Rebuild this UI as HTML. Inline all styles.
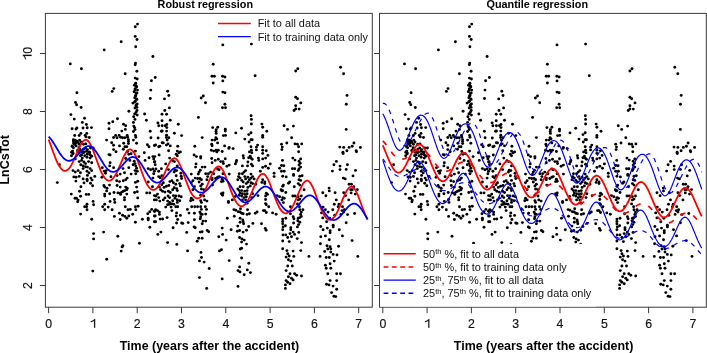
<!DOCTYPE html><html><head><meta charset="utf-8"><style>html,body{margin:0;padding:0;background:#fff;overflow:hidden}svg{display:block;will-change:transform}text{font-family:"Liberation Sans", sans-serif}</style></head><body><svg width="707" height="353" viewBox="0 0 707 353"><defs><clipPath id="cl"><rect x="45.4" y="13.4" width="326.9" height="293.8"/></clipPath><clipPath id="cr"><rect x="379.5" y="13.4" width="326.8" height="293.8"/></clipPath></defs><text x="205.3" y="7.8" font-size="10.8" font-weight="bold" text-anchor="middle" fill="#000">Robust regression</text><text x="537.3" y="7.8" font-size="10.8" font-weight="bold" text-anchor="middle" fill="#000">Quantile regression</text><g clip-path="url(#cl)"><g fill="#000" transform="translate(0.0,0)"><circle cx="137.5" cy="24.1" r="1.45"/><circle cx="135.3" cy="26.7" r="1.45"/><circle cx="135.2" cy="36.4" r="1.45"/><circle cx="137.0" cy="39.5" r="1.45"/><circle cx="121.2" cy="41.8" r="1.45"/><circle cx="135.7" cy="46.8" r="1.45"/><circle cx="104.2" cy="49.9" r="1.45"/><circle cx="152.9" cy="56.5" r="1.45"/><circle cx="70.3" cy="63.9" r="1.45"/><circle cx="135.5" cy="63.1" r="1.45"/><circle cx="135.2" cy="64.7" r="1.45"/><circle cx="222.8" cy="44.9" r="1.45"/><circle cx="251.4" cy="44.1" r="1.45"/><circle cx="213.2" cy="64.3" r="1.45"/><circle cx="81.4" cy="68.8" r="1.45"/><circle cx="136.9" cy="71.2" r="1.45"/><circle cx="125.2" cy="73.8" r="1.45"/><circle cx="135.2" cy="78.1" r="1.45"/><circle cx="137.2" cy="79.0" r="1.45"/><circle cx="151.4" cy="80.7" r="1.45"/><circle cx="135.7" cy="83.2" r="1.45"/><circle cx="134.4" cy="85.2" r="1.45"/><circle cx="136.3" cy="86.3" r="1.45"/><circle cx="135.2" cy="88.6" r="1.45"/><circle cx="137.5" cy="90.1" r="1.45"/><circle cx="134.1" cy="91.7" r="1.45"/><circle cx="136.3" cy="93.2" r="1.45"/><circle cx="113.8" cy="88.6" r="1.45"/><circle cx="112.2" cy="91.4" r="1.45"/><circle cx="150.8" cy="90.1" r="1.45"/><circle cx="76.9" cy="92.8" r="1.45"/><circle cx="150.3" cy="98.5" r="1.45"/><circle cx="75.5" cy="102.5" r="1.45"/><circle cx="76.6" cy="104.8" r="1.45"/><circle cx="81.1" cy="107.5" r="1.45"/><circle cx="135.7" cy="95.5" r="1.45"/><circle cx="134.7" cy="97.8" r="1.45"/><circle cx="136.9" cy="99.4" r="1.45"/><circle cx="135.2" cy="101.2" r="1.45"/><circle cx="132.9" cy="103.1" r="1.45"/><circle cx="137.2" cy="104.0" r="1.45"/><circle cx="136.0" cy="105.8" r="1.45"/><circle cx="136.9" cy="107.4" r="1.45"/><circle cx="128.9" cy="111.2" r="1.45"/><circle cx="136.0" cy="112.5" r="1.45"/><circle cx="134.7" cy="114.0" r="1.45"/><circle cx="137.2" cy="115.1" r="1.45"/><circle cx="133.7" cy="116.7" r="1.45"/><circle cx="144.6" cy="114.0" r="1.45"/><circle cx="70.9" cy="114.6" r="1.45"/><circle cx="74.3" cy="119.1" r="1.45"/><circle cx="84.5" cy="118.3" r="1.45"/><circle cx="117.5" cy="118.8" r="1.45"/><circle cx="146.4" cy="120.2" r="1.45"/><circle cx="135.0" cy="119.4" r="1.45"/><circle cx="155.2" cy="77.5" r="1.45"/><circle cx="212.0" cy="76.2" r="1.45"/><circle cx="214.4" cy="76.2" r="1.45"/><circle cx="213.2" cy="83.0" r="1.45"/><circle cx="222.6" cy="76.2" r="1.45"/><circle cx="224.9" cy="77.0" r="1.45"/><circle cx="222.8" cy="80.9" r="1.45"/><circle cx="255.1" cy="75.8" r="1.45"/><circle cx="167.6" cy="91.2" r="1.45"/><circle cx="168.8" cy="95.5" r="1.45"/><circle cx="164.5" cy="98.9" r="1.45"/><circle cx="222.8" cy="92.1" r="1.45"/><circle cx="224.9" cy="92.8" r="1.45"/><circle cx="203.3" cy="96.0" r="1.45"/><circle cx="201.2" cy="98.0" r="1.45"/><circle cx="205.5" cy="102.8" r="1.45"/><circle cx="224.9" cy="104.3" r="1.45"/><circle cx="222.5" cy="107.7" r="1.45"/><circle cx="225.5" cy="107.7" r="1.45"/><circle cx="169.4" cy="107.9" r="1.45"/><circle cx="164.8" cy="110.5" r="1.45"/><circle cx="162.0" cy="114.2" r="1.45"/><circle cx="166.6" cy="114.2" r="1.45"/><circle cx="198.4" cy="117.4" r="1.45"/><circle cx="251.1" cy="115.7" r="1.45"/><circle cx="251.4" cy="119.4" r="1.45"/><circle cx="162.0" cy="120.7" r="1.45"/><circle cx="170.3" cy="120.2" r="1.45"/><circle cx="297.8" cy="68.8" r="1.45"/><circle cx="295.7" cy="71.0" r="1.45"/><circle cx="340.6" cy="67.3" r="1.45"/><circle cx="343.6" cy="73.8" r="1.45"/><circle cx="295.7" cy="97.2" r="1.45"/><circle cx="297.5" cy="98.8" r="1.45"/><circle cx="300.8" cy="102.9" r="1.45"/><circle cx="295.7" cy="105.7" r="1.45"/><circle cx="295.7" cy="108.9" r="1.45"/><circle cx="294.1" cy="110.5" r="1.45"/><circle cx="299.1" cy="109.1" r="1.45"/><circle cx="347.0" cy="95.4" r="1.45"/><circle cx="346.3" cy="104.3" r="1.45"/><circle cx="82.3" cy="122.4" r="1.45"/><circle cx="86.4" cy="124.5" r="1.45"/><circle cx="72.1" cy="128.8" r="1.45"/><circle cx="76.0" cy="129.1" r="1.45"/><circle cx="76.9" cy="128.0" r="1.45"/><circle cx="83.0" cy="128.0" r="1.45"/><circle cx="87.2" cy="127.8" r="1.45"/><circle cx="91.5" cy="127.6" r="1.45"/><circle cx="74.7" cy="135.5" r="1.45"/><circle cx="79.2" cy="135.5" r="1.45"/><circle cx="80.9" cy="133.4" r="1.45"/><circle cx="86.8" cy="133.4" r="1.45"/><circle cx="85.1" cy="135.4" r="1.45"/><circle cx="89.3" cy="137.5" r="1.45"/><circle cx="86.1" cy="136.9" r="1.45"/><circle cx="73.4" cy="139.7" r="1.45"/><circle cx="75.0" cy="140.4" r="1.45"/><circle cx="76.1" cy="141.4" r="1.45"/><circle cx="79.6" cy="140.1" r="1.45"/><circle cx="73.8" cy="142.8" r="1.45"/><circle cx="75.7" cy="143.2" r="1.45"/><circle cx="77.7" cy="142.4" r="1.45"/><circle cx="72.2" cy="145.9" r="1.45"/><circle cx="76.1" cy="145.9" r="1.45"/><circle cx="83.5" cy="144.3" r="1.45"/><circle cx="85.8" cy="143.9" r="1.45"/><circle cx="74.6" cy="144.3" r="1.45"/><circle cx="79.2" cy="144.3" r="1.45"/><circle cx="80.8" cy="142.0" r="1.45"/><circle cx="109.0" cy="123.2" r="1.45"/><circle cx="112.8" cy="121.8" r="1.45"/><circle cx="123.5" cy="124.3" r="1.45"/><circle cx="125.7" cy="125.8" r="1.45"/><circle cx="109.0" cy="128.8" r="1.45"/><circle cx="121.8" cy="131.1" r="1.45"/><circle cx="125.3" cy="129.4" r="1.45"/><circle cx="133.4" cy="122.4" r="1.45"/><circle cx="133.8" cy="126.1" r="1.45"/><circle cx="134.6" cy="127.6" r="1.45"/><circle cx="135.0" cy="129.6" r="1.45"/><circle cx="133.4" cy="131.5" r="1.45"/><circle cx="150.2" cy="131.3" r="1.45"/><circle cx="115.6" cy="135.4" r="1.45"/><circle cx="119.1" cy="135.4" r="1.45"/><circle cx="113.6" cy="137.5" r="1.45"/><circle cx="117.0" cy="137.7" r="1.45"/><circle cx="120.6" cy="137.3" r="1.45"/><circle cx="122.6" cy="137.7" r="1.45"/><circle cx="124.9" cy="137.7" r="1.45"/><circle cx="127.2" cy="135.4" r="1.45"/><circle cx="127.6" cy="137.3" r="1.45"/><circle cx="128.4" cy="139.7" r="1.45"/><circle cx="128.4" cy="141.6" r="1.45"/><circle cx="128.4" cy="143.6" r="1.45"/><circle cx="135.4" cy="135.4" r="1.45"/><circle cx="135.8" cy="137.3" r="1.45"/><circle cx="133.4" cy="140.1" r="1.45"/><circle cx="136.6" cy="143.2" r="1.45"/><circle cx="106.6" cy="140.1" r="1.45"/><circle cx="111.7" cy="142.8" r="1.45"/><circle cx="113.6" cy="145.3" r="1.45"/><circle cx="123.7" cy="143.2" r="1.45"/><circle cx="119.5" cy="145.9" r="1.45"/><circle cx="124.9" cy="146.7" r="1.45"/><circle cx="126.8" cy="146.7" r="1.45"/><circle cx="150.9" cy="137.7" r="1.45"/><circle cx="147.4" cy="144.7" r="1.45"/><circle cx="149.0" cy="146.7" r="1.45"/><circle cx="154.4" cy="145.5" r="1.45"/><circle cx="72.6" cy="151.1" r="1.45"/><circle cx="73.0" cy="153.1" r="1.45"/><circle cx="71.5" cy="155.8" r="1.45"/><circle cx="75.3" cy="158.9" r="1.45"/><circle cx="77.7" cy="150.3" r="1.45"/><circle cx="79.6" cy="149.2" r="1.45"/><circle cx="81.6" cy="151.1" r="1.45"/><circle cx="83.1" cy="152.7" r="1.45"/><circle cx="80.4" cy="155.8" r="1.45"/><circle cx="82.3" cy="158.1" r="1.45"/><circle cx="84.7" cy="155.8" r="1.45"/><circle cx="87.4" cy="149.6" r="1.45"/><circle cx="88.6" cy="151.9" r="1.45"/><circle cx="89.7" cy="154.2" r="1.45"/><circle cx="91.7" cy="156.2" r="1.45"/><circle cx="87.0" cy="157.3" r="1.45"/><circle cx="90.1" cy="158.1" r="1.45"/><circle cx="79.2" cy="161.6" r="1.45"/><circle cx="81.6" cy="160.4" r="1.45"/><circle cx="83.9" cy="162.0" r="1.45"/><circle cx="85.5" cy="163.6" r="1.45"/><circle cx="88.6" cy="161.6" r="1.45"/><circle cx="91.7" cy="162.8" r="1.45"/><circle cx="80.8" cy="164.7" r="1.45"/><circle cx="83.1" cy="165.9" r="1.45"/><circle cx="85.5" cy="166.7" r="1.45"/><circle cx="87.4" cy="167.1" r="1.45"/><circle cx="83.1" cy="168.6" r="1.45"/><circle cx="90.1" cy="168.6" r="1.45"/><circle cx="91.7" cy="170.6" r="1.45"/><circle cx="73.0" cy="170.6" r="1.45"/><circle cx="75.3" cy="172.1" r="1.45"/><circle cx="78.1" cy="170.6" r="1.45"/><circle cx="80.4" cy="172.7" r="1.45"/><circle cx="87.0" cy="171.3" r="1.45"/><circle cx="89.0" cy="172.9" r="1.45"/><circle cx="59.4" cy="164.7" r="1.45"/><circle cx="93.2" cy="148.0" r="1.45"/><circle cx="90.5" cy="148.0" r="1.45"/><circle cx="85.5" cy="148.0" r="1.45"/><circle cx="113.6" cy="149.6" r="1.45"/><circle cx="116.0" cy="151.7" r="1.45"/><circle cx="123.3" cy="149.2" r="1.45"/><circle cx="109.0" cy="154.6" r="1.45"/><circle cx="110.1" cy="155.0" r="1.45"/><circle cx="127.6" cy="151.5" r="1.45"/><circle cx="128.8" cy="154.2" r="1.45"/><circle cx="131.1" cy="153.8" r="1.45"/><circle cx="135.4" cy="151.1" r="1.45"/><circle cx="138.9" cy="156.6" r="1.45"/><circle cx="144.3" cy="152.7" r="1.45"/><circle cx="125.7" cy="158.5" r="1.45"/><circle cx="129.9" cy="160.4" r="1.45"/><circle cx="110.1" cy="162.8" r="1.45"/><circle cx="109.7" cy="165.9" r="1.45"/><circle cx="113.6" cy="167.8" r="1.45"/><circle cx="102.3" cy="167.8" r="1.45"/><circle cx="104.3" cy="171.3" r="1.45"/><circle cx="106.2" cy="170.6" r="1.45"/><circle cx="105.5" cy="173.3" r="1.45"/><circle cx="123.0" cy="168.6" r="1.45"/><circle cx="128.8" cy="167.8" r="1.45"/><circle cx="124.5" cy="172.7" r="1.45"/><circle cx="120.2" cy="174.1" r="1.45"/><circle cx="131.1" cy="174.1" r="1.45"/><circle cx="134.2" cy="161.2" r="1.45"/><circle cx="135.0" cy="163.6" r="1.45"/><circle cx="135.8" cy="165.9" r="1.45"/><circle cx="136.6" cy="168.2" r="1.45"/><circle cx="135.0" cy="170.6" r="1.45"/><circle cx="137.3" cy="171.3" r="1.45"/><circle cx="133.1" cy="164.7" r="1.45"/><circle cx="145.1" cy="160.4" r="1.45"/><circle cx="149.0" cy="157.7" r="1.45"/><circle cx="152.9" cy="156.6" r="1.45"/><circle cx="153.7" cy="158.9" r="1.45"/><circle cx="154.4" cy="162.0" r="1.45"/><circle cx="148.2" cy="168.6" r="1.45"/><circle cx="150.6" cy="169.8" r="1.45"/><circle cx="152.9" cy="169.0" r="1.45"/><circle cx="154.4" cy="171.3" r="1.45"/><circle cx="153.7" cy="173.7" r="1.45"/><circle cx="135.8" cy="173.7" r="1.45"/><circle cx="157.9" cy="122.9" r="1.45"/><circle cx="158.7" cy="125.8" r="1.45"/><circle cx="162.2" cy="125.8" r="1.45"/><circle cx="165.3" cy="125.8" r="1.45"/><circle cx="166.8" cy="124.5" r="1.45"/><circle cx="166.8" cy="127.6" r="1.45"/><circle cx="178.3" cy="124.3" r="1.45"/><circle cx="161.4" cy="131.3" r="1.45"/><circle cx="162.2" cy="131.0" r="1.45"/><circle cx="166.6" cy="131.1" r="1.45"/><circle cx="174.4" cy="133.2" r="1.45"/><circle cx="181.6" cy="135.6" r="1.45"/><circle cx="166.6" cy="135.2" r="1.45"/><circle cx="166.4" cy="137.5" r="1.45"/><circle cx="168.8" cy="137.7" r="1.45"/><circle cx="167.2" cy="140.1" r="1.45"/><circle cx="158.1" cy="138.0" r="1.45"/><circle cx="202.2" cy="137.6" r="1.45"/><circle cx="162.2" cy="142.8" r="1.45"/><circle cx="163.3" cy="142.9" r="1.45"/><circle cx="155.6" cy="145.0" r="1.45"/><circle cx="158.7" cy="146.7" r="1.45"/><circle cx="159.8" cy="146.3" r="1.45"/><circle cx="166.4" cy="145.1" r="1.45"/><circle cx="168.0" cy="143.9" r="1.45"/><circle cx="170.3" cy="145.9" r="1.45"/><circle cx="177.7" cy="146.3" r="1.45"/><circle cx="194.8" cy="146.3" r="1.45"/><circle cx="212.7" cy="127.6" r="1.45"/><circle cx="217.7" cy="127.2" r="1.45"/><circle cx="216.2" cy="129.6" r="1.45"/><circle cx="216.0" cy="131.5" r="1.45"/><circle cx="216.2" cy="133.4" r="1.45"/><circle cx="225.3" cy="129.2" r="1.45"/><circle cx="225.3" cy="131.1" r="1.45"/><circle cx="223.4" cy="135.6" r="1.45"/><circle cx="225.5" cy="135.4" r="1.45"/><circle cx="235.8" cy="132.9" r="1.45"/><circle cx="241.5" cy="128.2" r="1.45"/><circle cx="251.4" cy="124.0" r="1.45"/><circle cx="251.0" cy="132.7" r="1.45"/><circle cx="248.8" cy="134.6" r="1.45"/><circle cx="244.8" cy="139.1" r="1.45"/><circle cx="251.0" cy="139.7" r="1.45"/><circle cx="252.2" cy="139.7" r="1.45"/><circle cx="249.1" cy="142.0" r="1.45"/><circle cx="261.9" cy="124.1" r="1.45"/><circle cx="262.7" cy="127.2" r="1.45"/><circle cx="262.7" cy="135.4" r="1.45"/><circle cx="262.7" cy="137.3" r="1.45"/><circle cx="215.8" cy="137.7" r="1.45"/><circle cx="216.8" cy="138.9" r="1.45"/><circle cx="212.1" cy="140.1" r="1.45"/><circle cx="214.8" cy="140.1" r="1.45"/><circle cx="217.6" cy="142.9" r="1.45"/><circle cx="211.7" cy="144.3" r="1.45"/><circle cx="212.1" cy="145.7" r="1.45"/><circle cx="224.6" cy="145.9" r="1.45"/><circle cx="229.2" cy="147.4" r="1.45"/><circle cx="251.0" cy="146.7" r="1.45"/><circle cx="257.6" cy="145.1" r="1.45"/><circle cx="256.4" cy="147.1" r="1.45"/><circle cx="262.7" cy="146.7" r="1.45"/><circle cx="168.6" cy="150.7" r="1.45"/><circle cx="177.3" cy="151.1" r="1.45"/><circle cx="180.4" cy="151.9" r="1.45"/><circle cx="178.9" cy="152.7" r="1.45"/><circle cx="176.2" cy="154.2" r="1.45"/><circle cx="177.3" cy="155.8" r="1.45"/><circle cx="159.1" cy="155.0" r="1.45"/><circle cx="154.8" cy="156.6" r="1.45"/><circle cx="154.8" cy="161.6" r="1.45"/><circle cx="155.2" cy="164.7" r="1.45"/><circle cx="169.6" cy="158.1" r="1.45"/><circle cx="172.7" cy="160.8" r="1.45"/><circle cx="174.4" cy="161.6" r="1.45"/><circle cx="165.7" cy="163.9" r="1.45"/><circle cx="177.3" cy="165.9" r="1.45"/><circle cx="161.4" cy="168.8" r="1.45"/><circle cx="168.4" cy="169.6" r="1.45"/><circle cx="175.0" cy="170.2" r="1.45"/><circle cx="176.6" cy="170.6" r="1.45"/><circle cx="174.2" cy="172.1" r="1.45"/><circle cx="180.8" cy="173.3" r="1.45"/><circle cx="155.9" cy="169.0" r="1.45"/><circle cx="158.7" cy="171.3" r="1.45"/><circle cx="194.1" cy="155.0" r="1.45"/><circle cx="196.4" cy="156.6" r="1.45"/><circle cx="200.7" cy="156.6" r="1.45"/><circle cx="200.7" cy="158.1" r="1.45"/><circle cx="196.0" cy="163.9" r="1.45"/><circle cx="195.6" cy="167.1" r="1.45"/><circle cx="202.2" cy="167.1" r="1.45"/><circle cx="204.9" cy="167.1" r="1.45"/><circle cx="200.3" cy="170.2" r="1.45"/><circle cx="199.1" cy="172.1" r="1.45"/><circle cx="198.3" cy="174.1" r="1.45"/><circle cx="191.3" cy="174.1" r="1.45"/><circle cx="205.7" cy="173.7" r="1.45"/><circle cx="208.4" cy="173.7" r="1.45"/><circle cx="211.3" cy="150.3" r="1.45"/><circle cx="213.7" cy="151.1" r="1.45"/><circle cx="216.0" cy="150.3" r="1.45"/><circle cx="218.3" cy="150.3" r="1.45"/><circle cx="216.8" cy="151.9" r="1.45"/><circle cx="222.2" cy="151.5" r="1.45"/><circle cx="228.8" cy="148.4" r="1.45"/><circle cx="233.1" cy="148.6" r="1.45"/><circle cx="211.7" cy="158.5" r="1.45"/><circle cx="215.2" cy="160.4" r="1.45"/><circle cx="218.3" cy="159.3" r="1.45"/><circle cx="220.7" cy="161.6" r="1.45"/><circle cx="223.0" cy="161.6" r="1.45"/><circle cx="223.4" cy="163.6" r="1.45"/><circle cx="225.3" cy="158.7" r="1.45"/><circle cx="212.1" cy="162.8" r="1.45"/><circle cx="226.9" cy="166.3" r="1.45"/><circle cx="229.2" cy="165.1" r="1.45"/><circle cx="235.4" cy="163.9" r="1.45"/><circle cx="236.2" cy="162.0" r="1.45"/><circle cx="236.6" cy="160.4" r="1.45"/><circle cx="243.2" cy="155.8" r="1.45"/><circle cx="243.6" cy="158.1" r="1.45"/><circle cx="242.4" cy="165.9" r="1.45"/><circle cx="247.9" cy="162.0" r="1.45"/><circle cx="248.7" cy="157.7" r="1.45"/><circle cx="250.2" cy="156.2" r="1.45"/><circle cx="251.0" cy="158.1" r="1.45"/><circle cx="252.2" cy="159.3" r="1.45"/><circle cx="249.4" cy="151.9" r="1.45"/><circle cx="251.4" cy="150.3" r="1.45"/><circle cx="251.8" cy="152.7" r="1.45"/><circle cx="256.4" cy="149.9" r="1.45"/><circle cx="258.4" cy="158.1" r="1.45"/><circle cx="258.8" cy="160.4" r="1.45"/><circle cx="262.7" cy="150.3" r="1.45"/><circle cx="262.7" cy="153.4" r="1.45"/><circle cx="262.7" cy="158.9" r="1.45"/><circle cx="251.4" cy="164.3" r="1.45"/><circle cx="252.6" cy="165.9" r="1.45"/><circle cx="247.5" cy="165.9" r="1.45"/><circle cx="245.6" cy="170.6" r="1.45"/><circle cx="244.0" cy="172.1" r="1.45"/><circle cx="242.4" cy="173.7" r="1.45"/><circle cx="239.3" cy="173.7" r="1.45"/><circle cx="217.6" cy="169.0" r="1.45"/><circle cx="219.1" cy="169.8" r="1.45"/><circle cx="210.6" cy="172.1" r="1.45"/><circle cx="213.7" cy="173.7" r="1.45"/><circle cx="229.2" cy="174.1" r="1.45"/><circle cx="223.0" cy="173.7" r="1.45"/><circle cx="260.3" cy="171.3" r="1.45"/><circle cx="262.7" cy="167.4" r="1.45"/><circle cx="251.0" cy="174.1" r="1.45"/><circle cx="284.1" cy="125.8" r="1.45"/><circle cx="293.4" cy="126.1" r="1.45"/><circle cx="287.5" cy="129.4" r="1.45"/><circle cx="266.8" cy="131.3" r="1.45"/><circle cx="291.6" cy="137.7" r="1.45"/><circle cx="281.5" cy="144.2" r="1.45"/><circle cx="286.8" cy="143.0" r="1.45"/><circle cx="295.0" cy="143.9" r="1.45"/><circle cx="297.4" cy="144.3" r="1.45"/><circle cx="301.7" cy="143.9" r="1.45"/><circle cx="298.6" cy="146.7" r="1.45"/><circle cx="282.3" cy="147.1" r="1.45"/><circle cx="346.2" cy="129.4" r="1.45"/><circle cx="353.9" cy="143.0" r="1.45"/><circle cx="352.2" cy="146.3" r="1.45"/><circle cx="349.1" cy="147.4" r="1.45"/><circle cx="339.8" cy="147.1" r="1.45"/><circle cx="343.7" cy="147.4" r="1.45"/><circle cx="360.4" cy="147.4" r="1.45"/><circle cx="281.9" cy="149.6" r="1.45"/><circle cx="266.3" cy="150.7" r="1.45"/><circle cx="267.9" cy="155.4" r="1.45"/><circle cx="265.6" cy="158.1" r="1.45"/><circle cx="270.2" cy="163.9" r="1.45"/><circle cx="265.6" cy="166.3" r="1.45"/><circle cx="268.3" cy="168.2" r="1.45"/><circle cx="282.5" cy="160.4" r="1.45"/><circle cx="281.5" cy="165.5" r="1.45"/><circle cx="283.8" cy="165.7" r="1.45"/><circle cx="279.6" cy="168.2" r="1.45"/><circle cx="281.5" cy="171.3" r="1.45"/><circle cx="284.2" cy="171.3" r="1.45"/><circle cx="298.6" cy="151.7" r="1.45"/><circle cx="292.8" cy="158.1" r="1.45"/><circle cx="295.0" cy="160.1" r="1.45"/><circle cx="300.6" cy="158.9" r="1.45"/><circle cx="299.0" cy="161.2" r="1.45"/><circle cx="300.2" cy="163.2" r="1.45"/><circle cx="299.0" cy="165.1" r="1.45"/><circle cx="300.6" cy="167.1" r="1.45"/><circle cx="299.0" cy="169.0" r="1.45"/><circle cx="298.2" cy="170.6" r="1.45"/><circle cx="292.4" cy="168.8" r="1.45"/><circle cx="294.7" cy="168.8" r="1.45"/><circle cx="274.1" cy="173.3" r="1.45"/><circle cx="293.6" cy="174.4" r="1.45"/><circle cx="346.9" cy="150.7" r="1.45"/><circle cx="342.9" cy="152.3" r="1.45"/><circle cx="343.1" cy="153.6" r="1.45"/><circle cx="356.1" cy="150.7" r="1.45"/><circle cx="356.5" cy="151.7" r="1.45"/><circle cx="336.4" cy="161.4" r="1.45"/><circle cx="333.9" cy="164.7" r="1.45"/><circle cx="340.0" cy="166.1" r="1.45"/><circle cx="347.4" cy="164.7" r="1.45"/><circle cx="340.0" cy="169.6" r="1.45"/><circle cx="346.2" cy="169.4" r="1.45"/><circle cx="332.4" cy="171.1" r="1.45"/><circle cx="355.5" cy="170.4" r="1.45"/><circle cx="57.3" cy="182.6" r="1.45"/><circle cx="73.8" cy="176.9" r="1.45"/><circle cx="76.1" cy="177.2" r="1.45"/><circle cx="79.2" cy="176.4" r="1.45"/><circle cx="87.4" cy="175.4" r="1.45"/><circle cx="94.8" cy="176.4" r="1.45"/><circle cx="83.1" cy="178.9" r="1.45"/><circle cx="87.0" cy="179.3" r="1.45"/><circle cx="87.2" cy="180.8" r="1.45"/><circle cx="90.9" cy="178.1" r="1.45"/><circle cx="92.1" cy="180.1" r="1.45"/><circle cx="75.9" cy="181.1" r="1.45"/><circle cx="84.0" cy="182.9" r="1.45"/><circle cx="90.5" cy="183.2" r="1.45"/><circle cx="92.6" cy="185.7" r="1.45"/><circle cx="80.9" cy="186.8" r="1.45"/><circle cx="79.6" cy="191.2" r="1.45"/><circle cx="71.3" cy="194.1" r="1.45"/><circle cx="86.2" cy="194.4" r="1.45"/><circle cx="88.7" cy="194.4" r="1.45"/><circle cx="80.6" cy="196.2" r="1.45"/><circle cx="75.0" cy="198.2" r="1.45"/><circle cx="76.5" cy="198.3" r="1.45"/><circle cx="78.1" cy="200.1" r="1.45"/><circle cx="93.1" cy="201.4" r="1.45"/><circle cx="77.7" cy="201.8" r="1.45"/><circle cx="101.9" cy="177.3" r="1.45"/><circle cx="110.9" cy="176.7" r="1.45"/><circle cx="117.1" cy="175.6" r="1.45"/><circle cx="116.7" cy="180.8" r="1.45"/><circle cx="119.5" cy="181.6" r="1.45"/><circle cx="123.3" cy="180.8" r="1.45"/><circle cx="125.7" cy="179.7" r="1.45"/><circle cx="127.2" cy="178.1" r="1.45"/><circle cx="135.4" cy="182.4" r="1.45"/><circle cx="137.7" cy="181.2" r="1.45"/><circle cx="103.9" cy="185.5" r="1.45"/><circle cx="104.7" cy="187.1" r="1.45"/><circle cx="107.0" cy="188.2" r="1.45"/><circle cx="109.5" cy="185.1" r="1.45"/><circle cx="117.1" cy="185.5" r="1.45"/><circle cx="120.2" cy="187.1" r="1.45"/><circle cx="125.7" cy="187.1" r="1.45"/><circle cx="127.2" cy="188.2" r="1.45"/><circle cx="126.8" cy="189.8" r="1.45"/><circle cx="124.9" cy="190.6" r="1.45"/><circle cx="123.3" cy="191.3" r="1.45"/><circle cx="121.8" cy="192.1" r="1.45"/><circle cx="120.2" cy="193.3" r="1.45"/><circle cx="136.6" cy="187.1" r="1.45"/><circle cx="106.6" cy="190.9" r="1.45"/><circle cx="104.7" cy="194.1" r="1.45"/><circle cx="104.7" cy="196.0" r="1.45"/><circle cx="109.7" cy="193.7" r="1.45"/><circle cx="114.0" cy="192.5" r="1.45"/><circle cx="117.9" cy="192.9" r="1.45"/><circle cx="120.6" cy="194.4" r="1.45"/><circle cx="126.8" cy="194.1" r="1.45"/><circle cx="134.6" cy="192.5" r="1.45"/><circle cx="137.3" cy="191.7" r="1.45"/><circle cx="137.7" cy="197.9" r="1.45"/><circle cx="124.5" cy="197.6" r="1.45"/><circle cx="124.5" cy="199.9" r="1.45"/><circle cx="114.4" cy="199.5" r="1.45"/><circle cx="110.1" cy="201.4" r="1.45"/><circle cx="146.7" cy="192.9" r="1.45"/><circle cx="149.8" cy="192.9" r="1.45"/><circle cx="148.2" cy="182.0" r="1.45"/><circle cx="152.5" cy="186.7" r="1.45"/><circle cx="154.4" cy="195.6" r="1.45"/><circle cx="154.4" cy="199.9" r="1.45"/><circle cx="152.9" cy="178.1" r="1.45"/><circle cx="158.7" cy="176.6" r="1.45"/><circle cx="160.2" cy="177.7" r="1.45"/><circle cx="161.8" cy="175.8" r="1.45"/><circle cx="176.2" cy="175.8" r="1.45"/><circle cx="181.2" cy="176.2" r="1.45"/><circle cx="181.6" cy="178.5" r="1.45"/><circle cx="177.3" cy="180.4" r="1.45"/><circle cx="169.9" cy="181.6" r="1.45"/><circle cx="171.9" cy="180.8" r="1.45"/><circle cx="173.4" cy="182.8" r="1.45"/><circle cx="163.3" cy="182.8" r="1.45"/><circle cx="161.8" cy="184.7" r="1.45"/><circle cx="159.4" cy="187.1" r="1.45"/><circle cx="164.1" cy="187.4" r="1.45"/><circle cx="166.4" cy="186.3" r="1.45"/><circle cx="168.8" cy="185.5" r="1.45"/><circle cx="175.8" cy="184.3" r="1.45"/><circle cx="179.7" cy="183.6" r="1.45"/><circle cx="180.4" cy="185.9" r="1.45"/><circle cx="174.2" cy="187.8" r="1.45"/><circle cx="176.6" cy="188.6" r="1.45"/><circle cx="177.3" cy="190.6" r="1.45"/><circle cx="172.7" cy="189.8" r="1.45"/><circle cx="160.6" cy="189.8" r="1.45"/><circle cx="162.6" cy="191.3" r="1.45"/><circle cx="164.9" cy="192.1" r="1.45"/><circle cx="168.4" cy="191.3" r="1.45"/><circle cx="170.3" cy="192.5" r="1.45"/><circle cx="157.5" cy="194.1" r="1.45"/><circle cx="155.9" cy="196.0" r="1.45"/><circle cx="158.7" cy="197.6" r="1.45"/><circle cx="156.3" cy="199.9" r="1.45"/><circle cx="164.9" cy="197.9" r="1.45"/><circle cx="163.3" cy="199.9" r="1.45"/><circle cx="168.0" cy="196.0" r="1.45"/><circle cx="169.6" cy="197.6" r="1.45"/><circle cx="173.4" cy="195.6" r="1.45"/><circle cx="175.8" cy="196.0" r="1.45"/><circle cx="178.9" cy="196.0" r="1.45"/><circle cx="181.2" cy="196.8" r="1.45"/><circle cx="175.0" cy="198.3" r="1.45"/><circle cx="177.3" cy="199.9" r="1.45"/><circle cx="172.7" cy="200.7" r="1.45"/><circle cx="179.7" cy="200.7" r="1.45"/><circle cx="167.6" cy="201.1" r="1.45"/><circle cx="159.8" cy="201.1" r="1.45"/><circle cx="195.2" cy="178.1" r="1.45"/><circle cx="197.6" cy="178.5" r="1.45"/><circle cx="199.9" cy="178.5" r="1.45"/><circle cx="201.4" cy="179.7" r="1.45"/><circle cx="192.9" cy="180.8" r="1.45"/><circle cx="199.1" cy="182.0" r="1.45"/><circle cx="202.2" cy="184.3" r="1.45"/><circle cx="200.7" cy="185.9" r="1.45"/><circle cx="194.4" cy="186.7" r="1.45"/><circle cx="201.4" cy="189.0" r="1.45"/><circle cx="203.8" cy="189.8" r="1.45"/><circle cx="191.3" cy="182.8" r="1.45"/><circle cx="192.9" cy="189.8" r="1.45"/><circle cx="203.8" cy="196.0" r="1.45"/><circle cx="200.7" cy="195.2" r="1.45"/><circle cx="191.3" cy="198.3" r="1.45"/><circle cx="190.6" cy="200.7" r="1.45"/><circle cx="192.9" cy="199.9" r="1.45"/><circle cx="200.7" cy="200.7" r="1.45"/><circle cx="204.6" cy="199.9" r="1.45"/><circle cx="206.9" cy="201.1" r="1.45"/><circle cx="207.7" cy="176.6" r="1.45"/><circle cx="206.9" cy="179.7" r="1.45"/><circle cx="212.1" cy="178.1" r="1.45"/><circle cx="212.1" cy="179.7" r="1.45"/><circle cx="215.6" cy="178.5" r="1.45"/><circle cx="217.6" cy="177.3" r="1.45"/><circle cx="219.1" cy="176.6" r="1.45"/><circle cx="222.2" cy="179.3" r="1.45"/><circle cx="221.4" cy="181.6" r="1.45"/><circle cx="223.0" cy="181.2" r="1.45"/><circle cx="212.5" cy="185.1" r="1.45"/><circle cx="221.4" cy="193.7" r="1.45"/><circle cx="222.6" cy="195.2" r="1.45"/><circle cx="223.0" cy="192.9" r="1.45"/><circle cx="232.3" cy="199.9" r="1.45"/><circle cx="235.4" cy="196.4" r="1.45"/><circle cx="228.4" cy="201.4" r="1.45"/><circle cx="238.6" cy="176.6" r="1.45"/><circle cx="240.1" cy="178.1" r="1.45"/><circle cx="237.8" cy="179.7" r="1.45"/><circle cx="241.7" cy="180.4" r="1.45"/><circle cx="243.2" cy="182.0" r="1.45"/><circle cx="245.6" cy="178.9" r="1.45"/><circle cx="244.8" cy="176.6" r="1.45"/><circle cx="247.9" cy="177.3" r="1.45"/><circle cx="249.4" cy="179.7" r="1.45"/><circle cx="251.0" cy="178.1" r="1.45"/><circle cx="252.6" cy="176.6" r="1.45"/><circle cx="254.1" cy="178.9" r="1.45"/><circle cx="247.9" cy="182.0" r="1.45"/><circle cx="251.0" cy="182.8" r="1.45"/><circle cx="252.6" cy="183.6" r="1.45"/><circle cx="255.7" cy="184.3" r="1.45"/><circle cx="246.3" cy="183.6" r="1.45"/><circle cx="243.2" cy="186.7" r="1.45"/><circle cx="240.1" cy="186.7" r="1.45"/><circle cx="237.8" cy="189.0" r="1.45"/><circle cx="239.3" cy="190.6" r="1.45"/><circle cx="241.7" cy="190.6" r="1.45"/><circle cx="244.8" cy="191.3" r="1.45"/><circle cx="247.1" cy="190.6" r="1.45"/><circle cx="247.9" cy="187.4" r="1.45"/><circle cx="250.2" cy="185.9" r="1.45"/><circle cx="240.1" cy="192.9" r="1.45"/><circle cx="242.4" cy="193.7" r="1.45"/><circle cx="244.8" cy="194.4" r="1.45"/><circle cx="247.1" cy="193.7" r="1.45"/><circle cx="246.3" cy="196.8" r="1.45"/><circle cx="244.0" cy="197.6" r="1.45"/><circle cx="241.7" cy="196.0" r="1.45"/><circle cx="239.3" cy="195.2" r="1.45"/><circle cx="242.4" cy="199.9" r="1.45"/><circle cx="245.6" cy="199.9" r="1.45"/><circle cx="252.6" cy="193.7" r="1.45"/><circle cx="258.0" cy="195.6" r="1.45"/><circle cx="251.8" cy="197.6" r="1.45"/><circle cx="262.7" cy="179.7" r="1.45"/><circle cx="261.9" cy="182.4" r="1.45"/><circle cx="274.1" cy="176.6" r="1.45"/><circle cx="282.7" cy="176.2" r="1.45"/><circle cx="286.2" cy="176.9" r="1.45"/><circle cx="293.6" cy="175.4" r="1.45"/><circle cx="299.8" cy="176.2" r="1.45"/><circle cx="302.1" cy="175.8" r="1.45"/><circle cx="299.0" cy="179.7" r="1.45"/><circle cx="300.6" cy="180.4" r="1.45"/><circle cx="298.2" cy="183.6" r="1.45"/><circle cx="299.8" cy="185.1" r="1.45"/><circle cx="289.7" cy="182.0" r="1.45"/><circle cx="288.5" cy="183.2" r="1.45"/><circle cx="283.4" cy="185.1" r="1.45"/><circle cx="282.7" cy="186.3" r="1.45"/><circle cx="294.3" cy="186.7" r="1.45"/><circle cx="304.1" cy="189.8" r="1.45"/><circle cx="281.1" cy="189.8" r="1.45"/><circle cx="282.7" cy="190.6" r="1.45"/><circle cx="285.8" cy="192.5" r="1.45"/><circle cx="281.9" cy="190.9" r="1.45"/><circle cx="264.8" cy="182.0" r="1.45"/><circle cx="264.8" cy="183.6" r="1.45"/><circle cx="266.3" cy="193.3" r="1.45"/><circle cx="267.5" cy="194.4" r="1.45"/><circle cx="265.6" cy="196.0" r="1.45"/><circle cx="265.6" cy="199.5" r="1.45"/><circle cx="277.2" cy="195.6" r="1.45"/><circle cx="279.6" cy="196.8" r="1.45"/><circle cx="282.7" cy="197.6" r="1.45"/><circle cx="284.2" cy="198.3" r="1.45"/><circle cx="281.9" cy="199.9" r="1.45"/><circle cx="292.8" cy="196.0" r="1.45"/><circle cx="295.1" cy="196.0" r="1.45"/><circle cx="298.2" cy="196.8" r="1.45"/><circle cx="301.3" cy="196.0" r="1.45"/><circle cx="299.8" cy="199.1" r="1.45"/><circle cx="298.2" cy="199.9" r="1.45"/><circle cx="353.0" cy="175.9" r="1.45"/><circle cx="343.3" cy="178.1" r="1.45"/><circle cx="345.2" cy="178.9" r="1.45"/><circle cx="349.1" cy="184.3" r="1.45"/><circle cx="351.4" cy="184.3" r="1.45"/><circle cx="353.8" cy="186.7" r="1.45"/><circle cx="357.3" cy="189.6" r="1.45"/><circle cx="350.7" cy="189.8" r="1.45"/><circle cx="352.2" cy="189.8" r="1.45"/><circle cx="351.1" cy="192.9" r="1.45"/><circle cx="355.3" cy="194.1" r="1.45"/><circle cx="343.7" cy="192.7" r="1.45"/><circle cx="345.6" cy="195.6" r="1.45"/><circle cx="329.1" cy="188.1" r="1.45"/><circle cx="329.3" cy="190.9" r="1.45"/><circle cx="322.8" cy="192.7" r="1.45"/><circle cx="325.9" cy="195.8" r="1.45"/><circle cx="335.1" cy="192.7" r="1.45"/><circle cx="336.3" cy="199.9" r="1.45"/><circle cx="348.7" cy="199.9" r="1.45"/><circle cx="87.0" cy="204.3" r="1.45"/><circle cx="84.7" cy="206.8" r="1.45"/><circle cx="86.6" cy="206.8" r="1.45"/><circle cx="87.0" cy="209.8" r="1.45"/><circle cx="93.6" cy="204.7" r="1.45"/><circle cx="80.6" cy="214.1" r="1.45"/><circle cx="91.7" cy="219.3" r="1.45"/><circle cx="114.8" cy="202.4" r="1.45"/><circle cx="104.7" cy="204.2" r="1.45"/><circle cx="102.7" cy="206.8" r="1.45"/><circle cx="108.2" cy="207.1" r="1.45"/><circle cx="104.7" cy="209.8" r="1.45"/><circle cx="112.1" cy="209.8" r="1.45"/><circle cx="125.3" cy="206.8" r="1.45"/><circle cx="128.0" cy="209.8" r="1.45"/><circle cx="130.3" cy="209.4" r="1.45"/><circle cx="135.4" cy="206.8" r="1.45"/><circle cx="138.1" cy="206.3" r="1.45"/><circle cx="135.8" cy="209.8" r="1.45"/><circle cx="119.5" cy="213.3" r="1.45"/><circle cx="122.6" cy="215.2" r="1.45"/><circle cx="124.9" cy="216.4" r="1.45"/><circle cx="126.8" cy="218.3" r="1.45"/><circle cx="128.8" cy="216.0" r="1.45"/><circle cx="132.7" cy="214.3" r="1.45"/><circle cx="114.4" cy="216.4" r="1.45"/><circle cx="120.2" cy="219.5" r="1.45"/><circle cx="135.4" cy="222.2" r="1.45"/><circle cx="142.4" cy="219.3" r="1.45"/><circle cx="148.2" cy="218.3" r="1.45"/><circle cx="148.2" cy="219.9" r="1.45"/><circle cx="147.8" cy="213.7" r="1.45"/><circle cx="149.8" cy="211.7" r="1.45"/><circle cx="151.7" cy="209.4" r="1.45"/><circle cx="154.4" cy="211.3" r="1.45"/><circle cx="154.4" cy="216.0" r="1.45"/><circle cx="154.4" cy="221.8" r="1.45"/><circle cx="149.8" cy="227.3" r="1.45"/><circle cx="169.6" cy="202.4" r="1.45"/><circle cx="177.3" cy="202.4" r="1.45"/><circle cx="201.4" cy="202.4" r="1.45"/><circle cx="165.7" cy="207.1" r="1.45"/><circle cx="167.6" cy="204.7" r="1.45"/><circle cx="169.6" cy="204.3" r="1.45"/><circle cx="171.9" cy="203.9" r="1.45"/><circle cx="173.8" cy="204.3" r="1.45"/><circle cx="171.1" cy="207.1" r="1.45"/><circle cx="175.8" cy="206.8" r="1.45"/><circle cx="177.7" cy="206.8" r="1.45"/><circle cx="171.9" cy="210.6" r="1.45"/><circle cx="155.6" cy="209.8" r="1.45"/><circle cx="157.5" cy="210.6" r="1.45"/><circle cx="154.8" cy="211.3" r="1.45"/><circle cx="159.4" cy="212.1" r="1.45"/><circle cx="159.4" cy="214.4" r="1.45"/><circle cx="155.2" cy="216.0" r="1.45"/><circle cx="160.2" cy="219.1" r="1.45"/><circle cx="162.6" cy="219.0" r="1.45"/><circle cx="167.1" cy="217.6" r="1.45"/><circle cx="176.6" cy="212.9" r="1.45"/><circle cx="176.2" cy="216.0" r="1.45"/><circle cx="180.4" cy="215.4" r="1.45"/><circle cx="177.7" cy="219.5" r="1.45"/><circle cx="176.6" cy="223.0" r="1.45"/><circle cx="181.6" cy="223.0" r="1.45"/><circle cx="182.8" cy="223.4" r="1.45"/><circle cx="187.4" cy="209.4" r="1.45"/><circle cx="189.0" cy="213.1" r="1.45"/><circle cx="194.4" cy="213.3" r="1.45"/><circle cx="191.7" cy="206.8" r="1.45"/><circle cx="194.8" cy="206.8" r="1.45"/><circle cx="197.6" cy="206.8" r="1.45"/><circle cx="200.7" cy="206.8" r="1.45"/><circle cx="205.3" cy="206.8" r="1.45"/><circle cx="206.5" cy="209.4" r="1.45"/><circle cx="201.4" cy="209.4" r="1.45"/><circle cx="199.9" cy="212.1" r="1.45"/><circle cx="200.7" cy="213.7" r="1.45"/><circle cx="202.2" cy="214.4" r="1.45"/><circle cx="205.7" cy="214.1" r="1.45"/><circle cx="200.7" cy="216.8" r="1.45"/><circle cx="200.3" cy="218.7" r="1.45"/><circle cx="194.4" cy="219.7" r="1.45"/><circle cx="188.2" cy="222.6" r="1.45"/><circle cx="203.0" cy="221.1" r="1.45"/><circle cx="205.7" cy="221.1" r="1.45"/><circle cx="202.2" cy="223.8" r="1.45"/><circle cx="155.6" cy="221.8" r="1.45"/><circle cx="173.1" cy="227.7" r="1.45"/><circle cx="194.1" cy="226.9" r="1.45"/><circle cx="195.2" cy="227.7" r="1.45"/><circle cx="228.4" cy="202.6" r="1.45"/><circle cx="233.9" cy="209.6" r="1.45"/><circle cx="235.8" cy="210.2" r="1.45"/><circle cx="238.2" cy="211.7" r="1.45"/><circle cx="240.1" cy="212.0" r="1.45"/><circle cx="240.5" cy="208.8" r="1.45"/><circle cx="241.7" cy="213.3" r="1.45"/><circle cx="243.2" cy="213.7" r="1.45"/><circle cx="247.5" cy="209.8" r="1.45"/><circle cx="247.1" cy="214.4" r="1.45"/><circle cx="249.4" cy="213.8" r="1.45"/><circle cx="255.3" cy="213.3" r="1.45"/><circle cx="257.1" cy="212.0" r="1.45"/><circle cx="234.3" cy="216.2" r="1.45"/><circle cx="227.3" cy="218.2" r="1.45"/><circle cx="240.1" cy="218.2" r="1.45"/><circle cx="242.8" cy="219.9" r="1.45"/><circle cx="243.2" cy="221.8" r="1.45"/><circle cx="243.6" cy="223.8" r="1.45"/><circle cx="240.1" cy="222.2" r="1.45"/><circle cx="237.8" cy="226.1" r="1.45"/><circle cx="252.9" cy="223.4" r="1.45"/><circle cx="261.5" cy="223.8" r="1.45"/><circle cx="248.7" cy="226.5" r="1.45"/><circle cx="222.2" cy="228.1" r="1.45"/><circle cx="263.4" cy="210.6" r="1.45"/><circle cx="247.1" cy="203.2" r="1.45"/><circle cx="265.6" cy="203.6" r="1.45"/><circle cx="266.3" cy="204.7" r="1.45"/><circle cx="268.7" cy="206.8" r="1.45"/><circle cx="264.8" cy="210.6" r="1.45"/><circle cx="266.3" cy="212.5" r="1.45"/><circle cx="272.6" cy="212.9" r="1.45"/><circle cx="276.1" cy="214.3" r="1.45"/><circle cx="283.4" cy="202.6" r="1.45"/><circle cx="290.4" cy="206.8" r="1.45"/><circle cx="297.4" cy="203.9" r="1.45"/><circle cx="299.4" cy="206.7" r="1.45"/><circle cx="299.8" cy="209.8" r="1.45"/><circle cx="302.9" cy="209.8" r="1.45"/><circle cx="301.3" cy="212.1" r="1.45"/><circle cx="300.6" cy="214.4" r="1.45"/><circle cx="301.3" cy="216.4" r="1.45"/><circle cx="299.8" cy="217.6" r="1.45"/><circle cx="298.2" cy="218.3" r="1.45"/><circle cx="297.8" cy="220.7" r="1.45"/><circle cx="299.8" cy="222.2" r="1.45"/><circle cx="298.6" cy="224.6" r="1.45"/><circle cx="297.4" cy="226.9" r="1.45"/><circle cx="290.4" cy="213.7" r="1.45"/><circle cx="293.2" cy="216.8" r="1.45"/><circle cx="293.9" cy="218.7" r="1.45"/><circle cx="293.6" cy="223.0" r="1.45"/><circle cx="290.8" cy="227.7" r="1.45"/><circle cx="282.7" cy="219.1" r="1.45"/><circle cx="285.8" cy="218.3" r="1.45"/><circle cx="282.7" cy="221.4" r="1.45"/><circle cx="282.7" cy="223.8" r="1.45"/><circle cx="283.1" cy="226.9" r="1.45"/><circle cx="285.4" cy="225.7" r="1.45"/><circle cx="265.2" cy="228.4" r="1.45"/><circle cx="334.3" cy="204.3" r="1.45"/><circle cx="339.0" cy="204.2" r="1.45"/><circle cx="338.2" cy="206.8" r="1.45"/><circle cx="342.5" cy="206.8" r="1.45"/><circle cx="344.4" cy="209.8" r="1.45"/><circle cx="342.1" cy="210.6" r="1.45"/><circle cx="343.7" cy="212.1" r="1.45"/><circle cx="340.9" cy="214.4" r="1.45"/><circle cx="347.6" cy="214.6" r="1.45"/><circle cx="332.8" cy="209.8" r="1.45"/><circle cx="328.1" cy="212.1" r="1.45"/><circle cx="325.4" cy="209.8" r="1.45"/><circle cx="323.1" cy="207.1" r="1.45"/><circle cx="321.5" cy="212.9" r="1.45"/><circle cx="322.7" cy="217.9" r="1.45"/><circle cx="326.6" cy="221.8" r="1.45"/><circle cx="329.7" cy="218.3" r="1.45"/><circle cx="334.7" cy="215.2" r="1.45"/><circle cx="354.6" cy="213.5" r="1.45"/><circle cx="346.2" cy="222.8" r="1.45"/><circle cx="320.7" cy="226.5" r="1.45"/><circle cx="327.3" cy="228.1" r="1.45"/><circle cx="333.2" cy="225.3" r="1.45"/><circle cx="333.2" cy="226.9" r="1.45"/><circle cx="93.6" cy="233.6" r="1.45"/><circle cx="103.6" cy="232.1" r="1.45"/><circle cx="117.8" cy="236.2" r="1.45"/><circle cx="93.6" cy="238.9" r="1.45"/><circle cx="122.9" cy="245.7" r="1.45"/><circle cx="122.1" cy="246.9" r="1.45"/><circle cx="121.2" cy="251.1" r="1.45"/><circle cx="139.4" cy="243.2" r="1.45"/><circle cx="106.7" cy="259.2" r="1.45"/><circle cx="92.8" cy="271.1" r="1.45"/><circle cx="160.9" cy="232.1" r="1.45"/><circle cx="157.8" cy="234.4" r="1.45"/><circle cx="186.7" cy="232.4" r="1.45"/><circle cx="200.2" cy="232.1" r="1.45"/><circle cx="202.1" cy="231.8" r="1.45"/><circle cx="207.2" cy="230.5" r="1.45"/><circle cx="208.7" cy="231.8" r="1.45"/><circle cx="231.1" cy="229.8" r="1.45"/><circle cx="237.3" cy="231.3" r="1.45"/><circle cx="239.6" cy="230.5" r="1.45"/><circle cx="243.1" cy="232.1" r="1.45"/><circle cx="246.5" cy="230.2" r="1.45"/><circle cx="222.6" cy="234.4" r="1.45"/><circle cx="218.8" cy="236.7" r="1.45"/><circle cx="226.2" cy="240.1" r="1.45"/><circle cx="198.7" cy="238.2" r="1.45"/><circle cx="202.1" cy="238.2" r="1.45"/><circle cx="197.2" cy="241.3" r="1.45"/><circle cx="167.6" cy="242.6" r="1.45"/><circle cx="176.8" cy="244.4" r="1.45"/><circle cx="239.6" cy="237.5" r="1.45"/><circle cx="241.9" cy="239.0" r="1.45"/><circle cx="244.2" cy="240.1" r="1.45"/><circle cx="241.6" cy="242.1" r="1.45"/><circle cx="246.5" cy="244.1" r="1.45"/><circle cx="187.6" cy="250.9" r="1.45"/><circle cx="201.0" cy="252.4" r="1.45"/><circle cx="219.5" cy="250.9" r="1.45"/><circle cx="221.5" cy="249.8" r="1.45"/><circle cx="240.3" cy="249.0" r="1.45"/><circle cx="241.6" cy="248.3" r="1.45"/><circle cx="201.5" cy="257.5" r="1.45"/><circle cx="199.5" cy="260.9" r="1.45"/><circle cx="204.1" cy="262.1" r="1.45"/><circle cx="229.2" cy="260.6" r="1.45"/><circle cx="241.6" cy="258.0" r="1.45"/><circle cx="248.8" cy="263.2" r="1.45"/><circle cx="209.2" cy="268.5" r="1.45"/><circle cx="239.6" cy="266.9" r="1.45"/><circle cx="238.0" cy="270.6" r="1.45"/><circle cx="240.0" cy="271.9" r="1.45"/><circle cx="247.3" cy="269.9" r="1.45"/><circle cx="244.2" cy="274.8" r="1.45"/><circle cx="250.4" cy="272.6" r="1.45"/><circle cx="199.5" cy="277.6" r="1.45"/><circle cx="222.2" cy="278.9" r="1.45"/><circle cx="266.1" cy="230.2" r="1.45"/><circle cx="282.7" cy="229.8" r="1.45"/><circle cx="290.8" cy="229.8" r="1.45"/><circle cx="283.0" cy="234.9" r="1.45"/><circle cx="285.8" cy="234.9" r="1.45"/><circle cx="290.0" cy="233.6" r="1.45"/><circle cx="293.1" cy="232.1" r="1.45"/><circle cx="298.8" cy="232.4" r="1.45"/><circle cx="294.6" cy="234.4" r="1.45"/><circle cx="287.7" cy="237.5" r="1.45"/><circle cx="291.5" cy="236.7" r="1.45"/><circle cx="297.2" cy="238.6" r="1.45"/><circle cx="282.7" cy="241.0" r="1.45"/><circle cx="289.2" cy="241.6" r="1.45"/><circle cx="301.5" cy="242.6" r="1.45"/><circle cx="323.1" cy="229.8" r="1.45"/><circle cx="330.1" cy="230.8" r="1.45"/><circle cx="330.1" cy="232.8" r="1.45"/><circle cx="339.3" cy="229.8" r="1.45"/><circle cx="320.8" cy="236.7" r="1.45"/><circle cx="325.4" cy="235.9" r="1.45"/><circle cx="329.3" cy="239.8" r="1.45"/><circle cx="342.4" cy="235.9" r="1.45"/><circle cx="352.1" cy="240.6" r="1.45"/><circle cx="320.4" cy="243.7" r="1.45"/><circle cx="327.0" cy="245.7" r="1.45"/><circle cx="330.1" cy="246.7" r="1.45"/><circle cx="327.8" cy="249.0" r="1.45"/><circle cx="330.8" cy="249.0" r="1.45"/><circle cx="338.6" cy="246.3" r="1.45"/><circle cx="282.7" cy="248.7" r="1.45"/><circle cx="286.9" cy="250.6" r="1.45"/><circle cx="293.1" cy="251.1" r="1.45"/><circle cx="300.8" cy="250.6" r="1.45"/><circle cx="287.7" cy="253.7" r="1.45"/><circle cx="286.1" cy="257.1" r="1.45"/><circle cx="289.2" cy="256.0" r="1.45"/><circle cx="293.8" cy="256.4" r="1.45"/><circle cx="288.4" cy="259.8" r="1.45"/><circle cx="290.8" cy="261.1" r="1.45"/><circle cx="308.9" cy="256.4" r="1.45"/><circle cx="320.1" cy="256.4" r="1.45"/><circle cx="324.7" cy="251.4" r="1.45"/><circle cx="326.2" cy="257.5" r="1.45"/><circle cx="329.3" cy="257.5" r="1.45"/><circle cx="333.1" cy="254.4" r="1.45"/><circle cx="337.0" cy="254.9" r="1.45"/><circle cx="357.8" cy="256.4" r="1.45"/><circle cx="330.8" cy="252.1" r="1.45"/><circle cx="334.2" cy="261.1" r="1.45"/><circle cx="325.4" cy="265.2" r="1.45"/><circle cx="330.1" cy="263.7" r="1.45"/><circle cx="326.2" cy="268.3" r="1.45"/><circle cx="330.8" cy="268.3" r="1.45"/><circle cx="292.3" cy="266.0" r="1.45"/><circle cx="287.7" cy="266.0" r="1.45"/><circle cx="286.1" cy="270.6" r="1.45"/><circle cx="290.0" cy="273.7" r="1.45"/><circle cx="294.6" cy="273.7" r="1.45"/><circle cx="301.5" cy="276.0" r="1.45"/><circle cx="296.6" cy="275.2" r="1.45"/><circle cx="288.4" cy="276.8" r="1.45"/><circle cx="286.1" cy="280.6" r="1.45"/><circle cx="291.5" cy="278.3" r="1.45"/><circle cx="293.1" cy="279.9" r="1.45"/><circle cx="287.7" cy="282.2" r="1.45"/><circle cx="327.8" cy="273.7" r="1.45"/><circle cx="336.7" cy="273.7" r="1.45"/><circle cx="340.4" cy="273.7" r="1.45"/><circle cx="330.1" cy="280.6" r="1.45"/><circle cx="336.7" cy="280.6" r="1.45"/><circle cx="206.7" cy="288.4" r="1.45"/><circle cx="238.0" cy="286.4" r="1.45"/><circle cx="285.4" cy="284.9" r="1.45"/><circle cx="285.4" cy="288.4" r="1.45"/><circle cx="290.0" cy="283.8" r="1.45"/><circle cx="326.5" cy="284.2" r="1.45"/><circle cx="329.0" cy="284.9" r="1.45"/><circle cx="333.1" cy="286.1" r="1.45"/><circle cx="336.7" cy="289.2" r="1.45"/><circle cx="331.6" cy="292.6" r="1.45"/><circle cx="333.9" cy="296.3" r="1.45"/><circle cx="335.8" cy="296.6" r="1.45"/><circle cx="73.4" cy="140.9" r="1.45"/><circle cx="75.2" cy="140.2" r="1.45"/><circle cx="77.1" cy="141.1" r="1.45"/><circle cx="73.6" cy="143.1" r="1.45"/><circle cx="75.7" cy="142.7" r="1.45"/><circle cx="72.1" cy="146.6" r="1.45"/><circle cx="73.4" cy="147.7" r="1.45"/><circle cx="71.6" cy="152.2" r="1.45"/><circle cx="73.0" cy="153.8" r="1.45"/><circle cx="78.9" cy="147.7" r="1.45"/><circle cx="80.0" cy="149.7" r="1.45"/><circle cx="78.0" cy="151.5" r="1.45"/><circle cx="80.9" cy="152.4" r="1.45"/><circle cx="81.6" cy="155.1" r="1.45"/><circle cx="83.6" cy="149.3" r="1.45"/><circle cx="84.1" cy="152.2" r="1.45"/><circle cx="86.6" cy="151.3" r="1.45"/><circle cx="87.2" cy="154.2" r="1.45"/><circle cx="89.6" cy="152.2" r="1.45"/><circle cx="90.2" cy="155.1" r="1.45"/><circle cx="135.5" cy="84.0" r="1.45"/><circle cx="136.6" cy="87.0" r="1.45"/><circle cx="135.0" cy="90.0" r="1.45"/><circle cx="137.0" cy="93.0" r="1.45"/><circle cx="135.6" cy="96.0" r="1.45"/><circle cx="136.6" cy="99.0" r="1.45"/><circle cx="134.6" cy="102.0" r="1.45"/><circle cx="136.2" cy="105.0" r="1.45"/><circle cx="135.0" cy="108.0" r="1.45"/><circle cx="137.0" cy="110.5" r="1.45"/></g></g><rect x="45.4" y="13.4" width="326.9" height="293.8" fill="none" stroke="#3a3a3a" stroke-width="1"/><line x1="48.6" y1="307.2" x2="48.6" y2="313.2" stroke="#3a3a3a" stroke-width="1"/><text x="48.6" y="327.7" font-size="12.3" text-anchor="middle" fill="#111" stroke="#111" stroke-width="0.15">0</text><line x1="92.9" y1="307.2" x2="92.9" y2="313.2" stroke="#3a3a3a" stroke-width="1"/><path transform="translate(89.48,327.70) scale(12.300)" d="M0.373,0 L0.462,0 L0.462,-0.716 L0.400,-0.716 C0.37,-0.645 0.27,-0.565 0.105,-0.53 L0.105,-0.45 C0.21,-0.475 0.32,-0.525 0.373,-0.565 Z" fill="#111" stroke="#111" stroke-width="0.0122"/><line x1="137.2" y1="307.2" x2="137.2" y2="313.2" stroke="#3a3a3a" stroke-width="1"/><text x="137.2" y="327.7" font-size="12.3" text-anchor="middle" fill="#111" stroke="#111" stroke-width="0.15">2</text><line x1="181.5" y1="307.2" x2="181.5" y2="313.2" stroke="#3a3a3a" stroke-width="1"/><text x="181.5" y="327.7" font-size="12.3" text-anchor="middle" fill="#111" stroke="#111" stroke-width="0.15">3</text><line x1="225.8" y1="307.2" x2="225.8" y2="313.2" stroke="#3a3a3a" stroke-width="1"/><text x="225.8" y="327.7" font-size="12.3" text-anchor="middle" fill="#111" stroke="#111" stroke-width="0.15">4</text><line x1="270.1" y1="307.2" x2="270.1" y2="313.2" stroke="#3a3a3a" stroke-width="1"/><text x="270.1" y="327.7" font-size="12.3" text-anchor="middle" fill="#111" stroke="#111" stroke-width="0.15">5</text><line x1="314.4" y1="307.2" x2="314.4" y2="313.2" stroke="#3a3a3a" stroke-width="1"/><text x="314.4" y="327.7" font-size="12.3" text-anchor="middle" fill="#111" stroke="#111" stroke-width="0.15">6</text><line x1="358.7" y1="307.2" x2="358.7" y2="313.2" stroke="#3a3a3a" stroke-width="1"/><text x="358.7" y="327.7" font-size="12.3" text-anchor="middle" fill="#111" stroke="#111" stroke-width="0.15">7</text><line x1="39.9" y1="285.5" x2="45.4" y2="285.5" stroke="#3a3a3a" stroke-width="1"/><text transform="translate(31.6,285.7) rotate(-90)" font-size="12.3" text-anchor="middle" fill="#111" stroke="#111" stroke-width="0.15">2</text><line x1="39.9" y1="227.5" x2="45.4" y2="227.5" stroke="#3a3a3a" stroke-width="1"/><text transform="translate(31.6,227.7) rotate(-90)" font-size="12.3" text-anchor="middle" fill="#111" stroke="#111" stroke-width="0.15">4</text><line x1="39.9" y1="169.5" x2="45.4" y2="169.5" stroke="#3a3a3a" stroke-width="1"/><text transform="translate(31.6,169.7) rotate(-90)" font-size="12.3" text-anchor="middle" fill="#111" stroke="#111" stroke-width="0.15">6</text><line x1="39.9" y1="111.5" x2="45.4" y2="111.5" stroke="#3a3a3a" stroke-width="1"/><text transform="translate(31.6,111.7) rotate(-90)" font-size="12.3" text-anchor="middle" fill="#111" stroke="#111" stroke-width="0.15">8</text><line x1="39.9" y1="53.5" x2="45.4" y2="53.5" stroke="#3a3a3a" stroke-width="1"/><g transform="translate(31.6,53.7) rotate(-90)"><path transform="translate(-6.84,0.00) scale(12.300)" d="M0.373,0 L0.462,0 L0.462,-0.716 L0.400,-0.716 C0.37,-0.645 0.27,-0.565 0.105,-0.53 L0.105,-0.45 C0.21,-0.475 0.32,-0.525 0.373,-0.565 Z" fill="#111" stroke="#111" stroke-width="0.0122"/><text x="0" y="0" font-size="12.3" fill="#111" stroke="#111" stroke-width="0.15">0</text></g><text x="209.5" y="349.8" font-size="12.45" font-weight="bold" text-anchor="middle" fill="#000">Time (years after the accident)</text><g clip-path="url(#cr)"><g fill="#000" transform="translate(334.2,0)"><circle cx="137.5" cy="24.1" r="1.45"/><circle cx="135.3" cy="26.7" r="1.45"/><circle cx="135.2" cy="36.4" r="1.45"/><circle cx="137.0" cy="39.5" r="1.45"/><circle cx="121.2" cy="41.8" r="1.45"/><circle cx="135.7" cy="46.8" r="1.45"/><circle cx="104.2" cy="49.9" r="1.45"/><circle cx="152.9" cy="56.5" r="1.45"/><circle cx="70.3" cy="63.9" r="1.45"/><circle cx="135.5" cy="63.1" r="1.45"/><circle cx="135.2" cy="64.7" r="1.45"/><circle cx="222.8" cy="44.9" r="1.45"/><circle cx="251.4" cy="44.1" r="1.45"/><circle cx="213.2" cy="64.3" r="1.45"/><circle cx="81.4" cy="68.8" r="1.45"/><circle cx="136.9" cy="71.2" r="1.45"/><circle cx="125.2" cy="73.8" r="1.45"/><circle cx="135.2" cy="78.1" r="1.45"/><circle cx="137.2" cy="79.0" r="1.45"/><circle cx="151.4" cy="80.7" r="1.45"/><circle cx="135.7" cy="83.2" r="1.45"/><circle cx="134.4" cy="85.2" r="1.45"/><circle cx="136.3" cy="86.3" r="1.45"/><circle cx="135.2" cy="88.6" r="1.45"/><circle cx="137.5" cy="90.1" r="1.45"/><circle cx="134.1" cy="91.7" r="1.45"/><circle cx="136.3" cy="93.2" r="1.45"/><circle cx="113.8" cy="88.6" r="1.45"/><circle cx="112.2" cy="91.4" r="1.45"/><circle cx="150.8" cy="90.1" r="1.45"/><circle cx="76.9" cy="92.8" r="1.45"/><circle cx="150.3" cy="98.5" r="1.45"/><circle cx="75.5" cy="102.5" r="1.45"/><circle cx="76.6" cy="104.8" r="1.45"/><circle cx="81.1" cy="107.5" r="1.45"/><circle cx="135.7" cy="95.5" r="1.45"/><circle cx="134.7" cy="97.8" r="1.45"/><circle cx="136.9" cy="99.4" r="1.45"/><circle cx="135.2" cy="101.2" r="1.45"/><circle cx="132.9" cy="103.1" r="1.45"/><circle cx="137.2" cy="104.0" r="1.45"/><circle cx="136.0" cy="105.8" r="1.45"/><circle cx="136.9" cy="107.4" r="1.45"/><circle cx="128.9" cy="111.2" r="1.45"/><circle cx="136.0" cy="112.5" r="1.45"/><circle cx="134.7" cy="114.0" r="1.45"/><circle cx="137.2" cy="115.1" r="1.45"/><circle cx="133.7" cy="116.7" r="1.45"/><circle cx="144.6" cy="114.0" r="1.45"/><circle cx="70.9" cy="114.6" r="1.45"/><circle cx="74.3" cy="119.1" r="1.45"/><circle cx="84.5" cy="118.3" r="1.45"/><circle cx="117.5" cy="118.8" r="1.45"/><circle cx="146.4" cy="120.2" r="1.45"/><circle cx="135.0" cy="119.4" r="1.45"/><circle cx="155.2" cy="77.5" r="1.45"/><circle cx="212.0" cy="76.2" r="1.45"/><circle cx="214.4" cy="76.2" r="1.45"/><circle cx="213.2" cy="83.0" r="1.45"/><circle cx="222.6" cy="76.2" r="1.45"/><circle cx="224.9" cy="77.0" r="1.45"/><circle cx="222.8" cy="80.9" r="1.45"/><circle cx="255.1" cy="75.8" r="1.45"/><circle cx="167.6" cy="91.2" r="1.45"/><circle cx="168.8" cy="95.5" r="1.45"/><circle cx="164.5" cy="98.9" r="1.45"/><circle cx="222.8" cy="92.1" r="1.45"/><circle cx="224.9" cy="92.8" r="1.45"/><circle cx="203.3" cy="96.0" r="1.45"/><circle cx="201.2" cy="98.0" r="1.45"/><circle cx="205.5" cy="102.8" r="1.45"/><circle cx="224.9" cy="104.3" r="1.45"/><circle cx="222.5" cy="107.7" r="1.45"/><circle cx="225.5" cy="107.7" r="1.45"/><circle cx="169.4" cy="107.9" r="1.45"/><circle cx="164.8" cy="110.5" r="1.45"/><circle cx="162.0" cy="114.2" r="1.45"/><circle cx="166.6" cy="114.2" r="1.45"/><circle cx="198.4" cy="117.4" r="1.45"/><circle cx="251.1" cy="115.7" r="1.45"/><circle cx="251.4" cy="119.4" r="1.45"/><circle cx="162.0" cy="120.7" r="1.45"/><circle cx="170.3" cy="120.2" r="1.45"/><circle cx="297.8" cy="68.8" r="1.45"/><circle cx="295.7" cy="71.0" r="1.45"/><circle cx="340.6" cy="67.3" r="1.45"/><circle cx="343.6" cy="73.8" r="1.45"/><circle cx="295.7" cy="97.2" r="1.45"/><circle cx="297.5" cy="98.8" r="1.45"/><circle cx="300.8" cy="102.9" r="1.45"/><circle cx="295.7" cy="105.7" r="1.45"/><circle cx="295.7" cy="108.9" r="1.45"/><circle cx="294.1" cy="110.5" r="1.45"/><circle cx="299.1" cy="109.1" r="1.45"/><circle cx="347.0" cy="95.4" r="1.45"/><circle cx="346.3" cy="104.3" r="1.45"/><circle cx="82.3" cy="122.4" r="1.45"/><circle cx="86.4" cy="124.5" r="1.45"/><circle cx="72.1" cy="128.8" r="1.45"/><circle cx="76.0" cy="129.1" r="1.45"/><circle cx="76.9" cy="128.0" r="1.45"/><circle cx="83.0" cy="128.0" r="1.45"/><circle cx="87.2" cy="127.8" r="1.45"/><circle cx="91.5" cy="127.6" r="1.45"/><circle cx="74.7" cy="135.5" r="1.45"/><circle cx="79.2" cy="135.5" r="1.45"/><circle cx="80.9" cy="133.4" r="1.45"/><circle cx="86.8" cy="133.4" r="1.45"/><circle cx="85.1" cy="135.4" r="1.45"/><circle cx="89.3" cy="137.5" r="1.45"/><circle cx="86.1" cy="136.9" r="1.45"/><circle cx="73.4" cy="139.7" r="1.45"/><circle cx="75.0" cy="140.4" r="1.45"/><circle cx="76.1" cy="141.4" r="1.45"/><circle cx="79.6" cy="140.1" r="1.45"/><circle cx="73.8" cy="142.8" r="1.45"/><circle cx="75.7" cy="143.2" r="1.45"/><circle cx="77.7" cy="142.4" r="1.45"/><circle cx="72.2" cy="145.9" r="1.45"/><circle cx="76.1" cy="145.9" r="1.45"/><circle cx="83.5" cy="144.3" r="1.45"/><circle cx="85.8" cy="143.9" r="1.45"/><circle cx="74.6" cy="144.3" r="1.45"/><circle cx="79.2" cy="144.3" r="1.45"/><circle cx="80.8" cy="142.0" r="1.45"/><circle cx="109.0" cy="123.2" r="1.45"/><circle cx="112.8" cy="121.8" r="1.45"/><circle cx="123.5" cy="124.3" r="1.45"/><circle cx="125.7" cy="125.8" r="1.45"/><circle cx="109.0" cy="128.8" r="1.45"/><circle cx="121.8" cy="131.1" r="1.45"/><circle cx="125.3" cy="129.4" r="1.45"/><circle cx="133.4" cy="122.4" r="1.45"/><circle cx="133.8" cy="126.1" r="1.45"/><circle cx="134.6" cy="127.6" r="1.45"/><circle cx="135.0" cy="129.6" r="1.45"/><circle cx="133.4" cy="131.5" r="1.45"/><circle cx="150.2" cy="131.3" r="1.45"/><circle cx="115.6" cy="135.4" r="1.45"/><circle cx="119.1" cy="135.4" r="1.45"/><circle cx="113.6" cy="137.5" r="1.45"/><circle cx="117.0" cy="137.7" r="1.45"/><circle cx="120.6" cy="137.3" r="1.45"/><circle cx="122.6" cy="137.7" r="1.45"/><circle cx="124.9" cy="137.7" r="1.45"/><circle cx="127.2" cy="135.4" r="1.45"/><circle cx="127.6" cy="137.3" r="1.45"/><circle cx="128.4" cy="139.7" r="1.45"/><circle cx="128.4" cy="141.6" r="1.45"/><circle cx="128.4" cy="143.6" r="1.45"/><circle cx="135.4" cy="135.4" r="1.45"/><circle cx="135.8" cy="137.3" r="1.45"/><circle cx="133.4" cy="140.1" r="1.45"/><circle cx="136.6" cy="143.2" r="1.45"/><circle cx="106.6" cy="140.1" r="1.45"/><circle cx="111.7" cy="142.8" r="1.45"/><circle cx="113.6" cy="145.3" r="1.45"/><circle cx="123.7" cy="143.2" r="1.45"/><circle cx="119.5" cy="145.9" r="1.45"/><circle cx="124.9" cy="146.7" r="1.45"/><circle cx="126.8" cy="146.7" r="1.45"/><circle cx="150.9" cy="137.7" r="1.45"/><circle cx="147.4" cy="144.7" r="1.45"/><circle cx="149.0" cy="146.7" r="1.45"/><circle cx="154.4" cy="145.5" r="1.45"/><circle cx="72.6" cy="151.1" r="1.45"/><circle cx="73.0" cy="153.1" r="1.45"/><circle cx="71.5" cy="155.8" r="1.45"/><circle cx="75.3" cy="158.9" r="1.45"/><circle cx="77.7" cy="150.3" r="1.45"/><circle cx="79.6" cy="149.2" r="1.45"/><circle cx="81.6" cy="151.1" r="1.45"/><circle cx="83.1" cy="152.7" r="1.45"/><circle cx="80.4" cy="155.8" r="1.45"/><circle cx="82.3" cy="158.1" r="1.45"/><circle cx="84.7" cy="155.8" r="1.45"/><circle cx="87.4" cy="149.6" r="1.45"/><circle cx="88.6" cy="151.9" r="1.45"/><circle cx="89.7" cy="154.2" r="1.45"/><circle cx="91.7" cy="156.2" r="1.45"/><circle cx="87.0" cy="157.3" r="1.45"/><circle cx="90.1" cy="158.1" r="1.45"/><circle cx="79.2" cy="161.6" r="1.45"/><circle cx="81.6" cy="160.4" r="1.45"/><circle cx="83.9" cy="162.0" r="1.45"/><circle cx="85.5" cy="163.6" r="1.45"/><circle cx="88.6" cy="161.6" r="1.45"/><circle cx="91.7" cy="162.8" r="1.45"/><circle cx="80.8" cy="164.7" r="1.45"/><circle cx="83.1" cy="165.9" r="1.45"/><circle cx="85.5" cy="166.7" r="1.45"/><circle cx="87.4" cy="167.1" r="1.45"/><circle cx="83.1" cy="168.6" r="1.45"/><circle cx="90.1" cy="168.6" r="1.45"/><circle cx="91.7" cy="170.6" r="1.45"/><circle cx="73.0" cy="170.6" r="1.45"/><circle cx="75.3" cy="172.1" r="1.45"/><circle cx="78.1" cy="170.6" r="1.45"/><circle cx="80.4" cy="172.7" r="1.45"/><circle cx="87.0" cy="171.3" r="1.45"/><circle cx="89.0" cy="172.9" r="1.45"/><circle cx="59.4" cy="164.7" r="1.45"/><circle cx="93.2" cy="148.0" r="1.45"/><circle cx="90.5" cy="148.0" r="1.45"/><circle cx="85.5" cy="148.0" r="1.45"/><circle cx="113.6" cy="149.6" r="1.45"/><circle cx="116.0" cy="151.7" r="1.45"/><circle cx="123.3" cy="149.2" r="1.45"/><circle cx="109.0" cy="154.6" r="1.45"/><circle cx="110.1" cy="155.0" r="1.45"/><circle cx="127.6" cy="151.5" r="1.45"/><circle cx="128.8" cy="154.2" r="1.45"/><circle cx="131.1" cy="153.8" r="1.45"/><circle cx="135.4" cy="151.1" r="1.45"/><circle cx="138.9" cy="156.6" r="1.45"/><circle cx="144.3" cy="152.7" r="1.45"/><circle cx="125.7" cy="158.5" r="1.45"/><circle cx="129.9" cy="160.4" r="1.45"/><circle cx="110.1" cy="162.8" r="1.45"/><circle cx="109.7" cy="165.9" r="1.45"/><circle cx="113.6" cy="167.8" r="1.45"/><circle cx="102.3" cy="167.8" r="1.45"/><circle cx="104.3" cy="171.3" r="1.45"/><circle cx="106.2" cy="170.6" r="1.45"/><circle cx="105.5" cy="173.3" r="1.45"/><circle cx="123.0" cy="168.6" r="1.45"/><circle cx="128.8" cy="167.8" r="1.45"/><circle cx="124.5" cy="172.7" r="1.45"/><circle cx="120.2" cy="174.1" r="1.45"/><circle cx="131.1" cy="174.1" r="1.45"/><circle cx="134.2" cy="161.2" r="1.45"/><circle cx="135.0" cy="163.6" r="1.45"/><circle cx="135.8" cy="165.9" r="1.45"/><circle cx="136.6" cy="168.2" r="1.45"/><circle cx="135.0" cy="170.6" r="1.45"/><circle cx="137.3" cy="171.3" r="1.45"/><circle cx="133.1" cy="164.7" r="1.45"/><circle cx="145.1" cy="160.4" r="1.45"/><circle cx="149.0" cy="157.7" r="1.45"/><circle cx="152.9" cy="156.6" r="1.45"/><circle cx="153.7" cy="158.9" r="1.45"/><circle cx="154.4" cy="162.0" r="1.45"/><circle cx="148.2" cy="168.6" r="1.45"/><circle cx="150.6" cy="169.8" r="1.45"/><circle cx="152.9" cy="169.0" r="1.45"/><circle cx="154.4" cy="171.3" r="1.45"/><circle cx="153.7" cy="173.7" r="1.45"/><circle cx="135.8" cy="173.7" r="1.45"/><circle cx="157.9" cy="122.9" r="1.45"/><circle cx="158.7" cy="125.8" r="1.45"/><circle cx="162.2" cy="125.8" r="1.45"/><circle cx="165.3" cy="125.8" r="1.45"/><circle cx="166.8" cy="124.5" r="1.45"/><circle cx="166.8" cy="127.6" r="1.45"/><circle cx="178.3" cy="124.3" r="1.45"/><circle cx="161.4" cy="131.3" r="1.45"/><circle cx="162.2" cy="131.0" r="1.45"/><circle cx="166.6" cy="131.1" r="1.45"/><circle cx="174.4" cy="133.2" r="1.45"/><circle cx="181.6" cy="135.6" r="1.45"/><circle cx="166.6" cy="135.2" r="1.45"/><circle cx="166.4" cy="137.5" r="1.45"/><circle cx="168.8" cy="137.7" r="1.45"/><circle cx="167.2" cy="140.1" r="1.45"/><circle cx="158.1" cy="138.0" r="1.45"/><circle cx="202.2" cy="137.6" r="1.45"/><circle cx="162.2" cy="142.8" r="1.45"/><circle cx="163.3" cy="142.9" r="1.45"/><circle cx="155.6" cy="145.0" r="1.45"/><circle cx="158.7" cy="146.7" r="1.45"/><circle cx="159.8" cy="146.3" r="1.45"/><circle cx="166.4" cy="145.1" r="1.45"/><circle cx="168.0" cy="143.9" r="1.45"/><circle cx="170.3" cy="145.9" r="1.45"/><circle cx="177.7" cy="146.3" r="1.45"/><circle cx="194.8" cy="146.3" r="1.45"/><circle cx="212.7" cy="127.6" r="1.45"/><circle cx="217.7" cy="127.2" r="1.45"/><circle cx="216.2" cy="129.6" r="1.45"/><circle cx="216.0" cy="131.5" r="1.45"/><circle cx="216.2" cy="133.4" r="1.45"/><circle cx="225.3" cy="129.2" r="1.45"/><circle cx="225.3" cy="131.1" r="1.45"/><circle cx="223.4" cy="135.6" r="1.45"/><circle cx="225.5" cy="135.4" r="1.45"/><circle cx="235.8" cy="132.9" r="1.45"/><circle cx="241.5" cy="128.2" r="1.45"/><circle cx="251.4" cy="124.0" r="1.45"/><circle cx="251.0" cy="132.7" r="1.45"/><circle cx="248.8" cy="134.6" r="1.45"/><circle cx="244.8" cy="139.1" r="1.45"/><circle cx="251.0" cy="139.7" r="1.45"/><circle cx="252.2" cy="139.7" r="1.45"/><circle cx="249.1" cy="142.0" r="1.45"/><circle cx="261.9" cy="124.1" r="1.45"/><circle cx="262.7" cy="127.2" r="1.45"/><circle cx="262.7" cy="135.4" r="1.45"/><circle cx="262.7" cy="137.3" r="1.45"/><circle cx="215.8" cy="137.7" r="1.45"/><circle cx="216.8" cy="138.9" r="1.45"/><circle cx="212.1" cy="140.1" r="1.45"/><circle cx="214.8" cy="140.1" r="1.45"/><circle cx="217.6" cy="142.9" r="1.45"/><circle cx="211.7" cy="144.3" r="1.45"/><circle cx="212.1" cy="145.7" r="1.45"/><circle cx="224.6" cy="145.9" r="1.45"/><circle cx="229.2" cy="147.4" r="1.45"/><circle cx="251.0" cy="146.7" r="1.45"/><circle cx="257.6" cy="145.1" r="1.45"/><circle cx="256.4" cy="147.1" r="1.45"/><circle cx="262.7" cy="146.7" r="1.45"/><circle cx="168.6" cy="150.7" r="1.45"/><circle cx="177.3" cy="151.1" r="1.45"/><circle cx="180.4" cy="151.9" r="1.45"/><circle cx="178.9" cy="152.7" r="1.45"/><circle cx="176.2" cy="154.2" r="1.45"/><circle cx="177.3" cy="155.8" r="1.45"/><circle cx="159.1" cy="155.0" r="1.45"/><circle cx="154.8" cy="156.6" r="1.45"/><circle cx="154.8" cy="161.6" r="1.45"/><circle cx="155.2" cy="164.7" r="1.45"/><circle cx="169.6" cy="158.1" r="1.45"/><circle cx="172.7" cy="160.8" r="1.45"/><circle cx="174.4" cy="161.6" r="1.45"/><circle cx="165.7" cy="163.9" r="1.45"/><circle cx="177.3" cy="165.9" r="1.45"/><circle cx="161.4" cy="168.8" r="1.45"/><circle cx="168.4" cy="169.6" r="1.45"/><circle cx="175.0" cy="170.2" r="1.45"/><circle cx="176.6" cy="170.6" r="1.45"/><circle cx="174.2" cy="172.1" r="1.45"/><circle cx="180.8" cy="173.3" r="1.45"/><circle cx="155.9" cy="169.0" r="1.45"/><circle cx="158.7" cy="171.3" r="1.45"/><circle cx="194.1" cy="155.0" r="1.45"/><circle cx="196.4" cy="156.6" r="1.45"/><circle cx="200.7" cy="156.6" r="1.45"/><circle cx="200.7" cy="158.1" r="1.45"/><circle cx="196.0" cy="163.9" r="1.45"/><circle cx="195.6" cy="167.1" r="1.45"/><circle cx="202.2" cy="167.1" r="1.45"/><circle cx="204.9" cy="167.1" r="1.45"/><circle cx="200.3" cy="170.2" r="1.45"/><circle cx="199.1" cy="172.1" r="1.45"/><circle cx="198.3" cy="174.1" r="1.45"/><circle cx="191.3" cy="174.1" r="1.45"/><circle cx="205.7" cy="173.7" r="1.45"/><circle cx="208.4" cy="173.7" r="1.45"/><circle cx="211.3" cy="150.3" r="1.45"/><circle cx="213.7" cy="151.1" r="1.45"/><circle cx="216.0" cy="150.3" r="1.45"/><circle cx="218.3" cy="150.3" r="1.45"/><circle cx="216.8" cy="151.9" r="1.45"/><circle cx="222.2" cy="151.5" r="1.45"/><circle cx="228.8" cy="148.4" r="1.45"/><circle cx="233.1" cy="148.6" r="1.45"/><circle cx="211.7" cy="158.5" r="1.45"/><circle cx="215.2" cy="160.4" r="1.45"/><circle cx="218.3" cy="159.3" r="1.45"/><circle cx="220.7" cy="161.6" r="1.45"/><circle cx="223.0" cy="161.6" r="1.45"/><circle cx="223.4" cy="163.6" r="1.45"/><circle cx="225.3" cy="158.7" r="1.45"/><circle cx="212.1" cy="162.8" r="1.45"/><circle cx="226.9" cy="166.3" r="1.45"/><circle cx="229.2" cy="165.1" r="1.45"/><circle cx="235.4" cy="163.9" r="1.45"/><circle cx="236.2" cy="162.0" r="1.45"/><circle cx="236.6" cy="160.4" r="1.45"/><circle cx="243.2" cy="155.8" r="1.45"/><circle cx="243.6" cy="158.1" r="1.45"/><circle cx="242.4" cy="165.9" r="1.45"/><circle cx="247.9" cy="162.0" r="1.45"/><circle cx="248.7" cy="157.7" r="1.45"/><circle cx="250.2" cy="156.2" r="1.45"/><circle cx="251.0" cy="158.1" r="1.45"/><circle cx="252.2" cy="159.3" r="1.45"/><circle cx="249.4" cy="151.9" r="1.45"/><circle cx="251.4" cy="150.3" r="1.45"/><circle cx="251.8" cy="152.7" r="1.45"/><circle cx="256.4" cy="149.9" r="1.45"/><circle cx="258.4" cy="158.1" r="1.45"/><circle cx="258.8" cy="160.4" r="1.45"/><circle cx="262.7" cy="150.3" r="1.45"/><circle cx="262.7" cy="153.4" r="1.45"/><circle cx="262.7" cy="158.9" r="1.45"/><circle cx="251.4" cy="164.3" r="1.45"/><circle cx="252.6" cy="165.9" r="1.45"/><circle cx="247.5" cy="165.9" r="1.45"/><circle cx="245.6" cy="170.6" r="1.45"/><circle cx="244.0" cy="172.1" r="1.45"/><circle cx="242.4" cy="173.7" r="1.45"/><circle cx="239.3" cy="173.7" r="1.45"/><circle cx="217.6" cy="169.0" r="1.45"/><circle cx="219.1" cy="169.8" r="1.45"/><circle cx="210.6" cy="172.1" r="1.45"/><circle cx="213.7" cy="173.7" r="1.45"/><circle cx="229.2" cy="174.1" r="1.45"/><circle cx="223.0" cy="173.7" r="1.45"/><circle cx="260.3" cy="171.3" r="1.45"/><circle cx="262.7" cy="167.4" r="1.45"/><circle cx="251.0" cy="174.1" r="1.45"/><circle cx="284.1" cy="125.8" r="1.45"/><circle cx="293.4" cy="126.1" r="1.45"/><circle cx="287.5" cy="129.4" r="1.45"/><circle cx="266.8" cy="131.3" r="1.45"/><circle cx="291.6" cy="137.7" r="1.45"/><circle cx="281.5" cy="144.2" r="1.45"/><circle cx="286.8" cy="143.0" r="1.45"/><circle cx="295.0" cy="143.9" r="1.45"/><circle cx="297.4" cy="144.3" r="1.45"/><circle cx="301.7" cy="143.9" r="1.45"/><circle cx="298.6" cy="146.7" r="1.45"/><circle cx="282.3" cy="147.1" r="1.45"/><circle cx="346.2" cy="129.4" r="1.45"/><circle cx="353.9" cy="143.0" r="1.45"/><circle cx="352.2" cy="146.3" r="1.45"/><circle cx="349.1" cy="147.4" r="1.45"/><circle cx="339.8" cy="147.1" r="1.45"/><circle cx="343.7" cy="147.4" r="1.45"/><circle cx="360.4" cy="147.4" r="1.45"/><circle cx="281.9" cy="149.6" r="1.45"/><circle cx="266.3" cy="150.7" r="1.45"/><circle cx="267.9" cy="155.4" r="1.45"/><circle cx="265.6" cy="158.1" r="1.45"/><circle cx="270.2" cy="163.9" r="1.45"/><circle cx="265.6" cy="166.3" r="1.45"/><circle cx="268.3" cy="168.2" r="1.45"/><circle cx="282.5" cy="160.4" r="1.45"/><circle cx="281.5" cy="165.5" r="1.45"/><circle cx="283.8" cy="165.7" r="1.45"/><circle cx="279.6" cy="168.2" r="1.45"/><circle cx="281.5" cy="171.3" r="1.45"/><circle cx="284.2" cy="171.3" r="1.45"/><circle cx="298.6" cy="151.7" r="1.45"/><circle cx="292.8" cy="158.1" r="1.45"/><circle cx="295.0" cy="160.1" r="1.45"/><circle cx="300.6" cy="158.9" r="1.45"/><circle cx="299.0" cy="161.2" r="1.45"/><circle cx="300.2" cy="163.2" r="1.45"/><circle cx="299.0" cy="165.1" r="1.45"/><circle cx="300.6" cy="167.1" r="1.45"/><circle cx="299.0" cy="169.0" r="1.45"/><circle cx="298.2" cy="170.6" r="1.45"/><circle cx="292.4" cy="168.8" r="1.45"/><circle cx="294.7" cy="168.8" r="1.45"/><circle cx="274.1" cy="173.3" r="1.45"/><circle cx="293.6" cy="174.4" r="1.45"/><circle cx="346.9" cy="150.7" r="1.45"/><circle cx="342.9" cy="152.3" r="1.45"/><circle cx="343.1" cy="153.6" r="1.45"/><circle cx="356.1" cy="150.7" r="1.45"/><circle cx="356.5" cy="151.7" r="1.45"/><circle cx="336.4" cy="161.4" r="1.45"/><circle cx="333.9" cy="164.7" r="1.45"/><circle cx="340.0" cy="166.1" r="1.45"/><circle cx="347.4" cy="164.7" r="1.45"/><circle cx="340.0" cy="169.6" r="1.45"/><circle cx="346.2" cy="169.4" r="1.45"/><circle cx="332.4" cy="171.1" r="1.45"/><circle cx="355.5" cy="170.4" r="1.45"/><circle cx="57.3" cy="182.6" r="1.45"/><circle cx="73.8" cy="176.9" r="1.45"/><circle cx="76.1" cy="177.2" r="1.45"/><circle cx="79.2" cy="176.4" r="1.45"/><circle cx="87.4" cy="175.4" r="1.45"/><circle cx="94.8" cy="176.4" r="1.45"/><circle cx="83.1" cy="178.9" r="1.45"/><circle cx="87.0" cy="179.3" r="1.45"/><circle cx="87.2" cy="180.8" r="1.45"/><circle cx="90.9" cy="178.1" r="1.45"/><circle cx="92.1" cy="180.1" r="1.45"/><circle cx="75.9" cy="181.1" r="1.45"/><circle cx="84.0" cy="182.9" r="1.45"/><circle cx="90.5" cy="183.2" r="1.45"/><circle cx="92.6" cy="185.7" r="1.45"/><circle cx="80.9" cy="186.8" r="1.45"/><circle cx="79.6" cy="191.2" r="1.45"/><circle cx="71.3" cy="194.1" r="1.45"/><circle cx="86.2" cy="194.4" r="1.45"/><circle cx="88.7" cy="194.4" r="1.45"/><circle cx="80.6" cy="196.2" r="1.45"/><circle cx="75.0" cy="198.2" r="1.45"/><circle cx="76.5" cy="198.3" r="1.45"/><circle cx="78.1" cy="200.1" r="1.45"/><circle cx="93.1" cy="201.4" r="1.45"/><circle cx="77.7" cy="201.8" r="1.45"/><circle cx="101.9" cy="177.3" r="1.45"/><circle cx="110.9" cy="176.7" r="1.45"/><circle cx="117.1" cy="175.6" r="1.45"/><circle cx="116.7" cy="180.8" r="1.45"/><circle cx="119.5" cy="181.6" r="1.45"/><circle cx="123.3" cy="180.8" r="1.45"/><circle cx="125.7" cy="179.7" r="1.45"/><circle cx="127.2" cy="178.1" r="1.45"/><circle cx="135.4" cy="182.4" r="1.45"/><circle cx="137.7" cy="181.2" r="1.45"/><circle cx="103.9" cy="185.5" r="1.45"/><circle cx="104.7" cy="187.1" r="1.45"/><circle cx="107.0" cy="188.2" r="1.45"/><circle cx="109.5" cy="185.1" r="1.45"/><circle cx="117.1" cy="185.5" r="1.45"/><circle cx="120.2" cy="187.1" r="1.45"/><circle cx="125.7" cy="187.1" r="1.45"/><circle cx="127.2" cy="188.2" r="1.45"/><circle cx="126.8" cy="189.8" r="1.45"/><circle cx="124.9" cy="190.6" r="1.45"/><circle cx="123.3" cy="191.3" r="1.45"/><circle cx="121.8" cy="192.1" r="1.45"/><circle cx="120.2" cy="193.3" r="1.45"/><circle cx="136.6" cy="187.1" r="1.45"/><circle cx="106.6" cy="190.9" r="1.45"/><circle cx="104.7" cy="194.1" r="1.45"/><circle cx="104.7" cy="196.0" r="1.45"/><circle cx="109.7" cy="193.7" r="1.45"/><circle cx="114.0" cy="192.5" r="1.45"/><circle cx="117.9" cy="192.9" r="1.45"/><circle cx="120.6" cy="194.4" r="1.45"/><circle cx="126.8" cy="194.1" r="1.45"/><circle cx="134.6" cy="192.5" r="1.45"/><circle cx="137.3" cy="191.7" r="1.45"/><circle cx="137.7" cy="197.9" r="1.45"/><circle cx="124.5" cy="197.6" r="1.45"/><circle cx="124.5" cy="199.9" r="1.45"/><circle cx="114.4" cy="199.5" r="1.45"/><circle cx="110.1" cy="201.4" r="1.45"/><circle cx="146.7" cy="192.9" r="1.45"/><circle cx="149.8" cy="192.9" r="1.45"/><circle cx="148.2" cy="182.0" r="1.45"/><circle cx="152.5" cy="186.7" r="1.45"/><circle cx="154.4" cy="195.6" r="1.45"/><circle cx="154.4" cy="199.9" r="1.45"/><circle cx="152.9" cy="178.1" r="1.45"/><circle cx="158.7" cy="176.6" r="1.45"/><circle cx="160.2" cy="177.7" r="1.45"/><circle cx="161.8" cy="175.8" r="1.45"/><circle cx="176.2" cy="175.8" r="1.45"/><circle cx="181.2" cy="176.2" r="1.45"/><circle cx="181.6" cy="178.5" r="1.45"/><circle cx="177.3" cy="180.4" r="1.45"/><circle cx="169.9" cy="181.6" r="1.45"/><circle cx="171.9" cy="180.8" r="1.45"/><circle cx="173.4" cy="182.8" r="1.45"/><circle cx="163.3" cy="182.8" r="1.45"/><circle cx="161.8" cy="184.7" r="1.45"/><circle cx="159.4" cy="187.1" r="1.45"/><circle cx="164.1" cy="187.4" r="1.45"/><circle cx="166.4" cy="186.3" r="1.45"/><circle cx="168.8" cy="185.5" r="1.45"/><circle cx="175.8" cy="184.3" r="1.45"/><circle cx="179.7" cy="183.6" r="1.45"/><circle cx="180.4" cy="185.9" r="1.45"/><circle cx="174.2" cy="187.8" r="1.45"/><circle cx="176.6" cy="188.6" r="1.45"/><circle cx="177.3" cy="190.6" r="1.45"/><circle cx="172.7" cy="189.8" r="1.45"/><circle cx="160.6" cy="189.8" r="1.45"/><circle cx="162.6" cy="191.3" r="1.45"/><circle cx="164.9" cy="192.1" r="1.45"/><circle cx="168.4" cy="191.3" r="1.45"/><circle cx="170.3" cy="192.5" r="1.45"/><circle cx="157.5" cy="194.1" r="1.45"/><circle cx="155.9" cy="196.0" r="1.45"/><circle cx="158.7" cy="197.6" r="1.45"/><circle cx="156.3" cy="199.9" r="1.45"/><circle cx="164.9" cy="197.9" r="1.45"/><circle cx="163.3" cy="199.9" r="1.45"/><circle cx="168.0" cy="196.0" r="1.45"/><circle cx="169.6" cy="197.6" r="1.45"/><circle cx="173.4" cy="195.6" r="1.45"/><circle cx="175.8" cy="196.0" r="1.45"/><circle cx="178.9" cy="196.0" r="1.45"/><circle cx="181.2" cy="196.8" r="1.45"/><circle cx="175.0" cy="198.3" r="1.45"/><circle cx="177.3" cy="199.9" r="1.45"/><circle cx="172.7" cy="200.7" r="1.45"/><circle cx="179.7" cy="200.7" r="1.45"/><circle cx="167.6" cy="201.1" r="1.45"/><circle cx="159.8" cy="201.1" r="1.45"/><circle cx="195.2" cy="178.1" r="1.45"/><circle cx="197.6" cy="178.5" r="1.45"/><circle cx="199.9" cy="178.5" r="1.45"/><circle cx="201.4" cy="179.7" r="1.45"/><circle cx="192.9" cy="180.8" r="1.45"/><circle cx="199.1" cy="182.0" r="1.45"/><circle cx="202.2" cy="184.3" r="1.45"/><circle cx="200.7" cy="185.9" r="1.45"/><circle cx="194.4" cy="186.7" r="1.45"/><circle cx="201.4" cy="189.0" r="1.45"/><circle cx="203.8" cy="189.8" r="1.45"/><circle cx="191.3" cy="182.8" r="1.45"/><circle cx="192.9" cy="189.8" r="1.45"/><circle cx="203.8" cy="196.0" r="1.45"/><circle cx="200.7" cy="195.2" r="1.45"/><circle cx="191.3" cy="198.3" r="1.45"/><circle cx="190.6" cy="200.7" r="1.45"/><circle cx="192.9" cy="199.9" r="1.45"/><circle cx="200.7" cy="200.7" r="1.45"/><circle cx="204.6" cy="199.9" r="1.45"/><circle cx="206.9" cy="201.1" r="1.45"/><circle cx="207.7" cy="176.6" r="1.45"/><circle cx="206.9" cy="179.7" r="1.45"/><circle cx="212.1" cy="178.1" r="1.45"/><circle cx="212.1" cy="179.7" r="1.45"/><circle cx="215.6" cy="178.5" r="1.45"/><circle cx="217.6" cy="177.3" r="1.45"/><circle cx="219.1" cy="176.6" r="1.45"/><circle cx="222.2" cy="179.3" r="1.45"/><circle cx="221.4" cy="181.6" r="1.45"/><circle cx="223.0" cy="181.2" r="1.45"/><circle cx="212.5" cy="185.1" r="1.45"/><circle cx="221.4" cy="193.7" r="1.45"/><circle cx="222.6" cy="195.2" r="1.45"/><circle cx="223.0" cy="192.9" r="1.45"/><circle cx="232.3" cy="199.9" r="1.45"/><circle cx="235.4" cy="196.4" r="1.45"/><circle cx="228.4" cy="201.4" r="1.45"/><circle cx="238.6" cy="176.6" r="1.45"/><circle cx="240.1" cy="178.1" r="1.45"/><circle cx="237.8" cy="179.7" r="1.45"/><circle cx="241.7" cy="180.4" r="1.45"/><circle cx="243.2" cy="182.0" r="1.45"/><circle cx="245.6" cy="178.9" r="1.45"/><circle cx="244.8" cy="176.6" r="1.45"/><circle cx="247.9" cy="177.3" r="1.45"/><circle cx="249.4" cy="179.7" r="1.45"/><circle cx="251.0" cy="178.1" r="1.45"/><circle cx="252.6" cy="176.6" r="1.45"/><circle cx="254.1" cy="178.9" r="1.45"/><circle cx="247.9" cy="182.0" r="1.45"/><circle cx="251.0" cy="182.8" r="1.45"/><circle cx="252.6" cy="183.6" r="1.45"/><circle cx="255.7" cy="184.3" r="1.45"/><circle cx="246.3" cy="183.6" r="1.45"/><circle cx="243.2" cy="186.7" r="1.45"/><circle cx="240.1" cy="186.7" r="1.45"/><circle cx="237.8" cy="189.0" r="1.45"/><circle cx="239.3" cy="190.6" r="1.45"/><circle cx="241.7" cy="190.6" r="1.45"/><circle cx="244.8" cy="191.3" r="1.45"/><circle cx="247.1" cy="190.6" r="1.45"/><circle cx="247.9" cy="187.4" r="1.45"/><circle cx="250.2" cy="185.9" r="1.45"/><circle cx="240.1" cy="192.9" r="1.45"/><circle cx="242.4" cy="193.7" r="1.45"/><circle cx="244.8" cy="194.4" r="1.45"/><circle cx="247.1" cy="193.7" r="1.45"/><circle cx="246.3" cy="196.8" r="1.45"/><circle cx="244.0" cy="197.6" r="1.45"/><circle cx="241.7" cy="196.0" r="1.45"/><circle cx="239.3" cy="195.2" r="1.45"/><circle cx="242.4" cy="199.9" r="1.45"/><circle cx="245.6" cy="199.9" r="1.45"/><circle cx="252.6" cy="193.7" r="1.45"/><circle cx="258.0" cy="195.6" r="1.45"/><circle cx="251.8" cy="197.6" r="1.45"/><circle cx="262.7" cy="179.7" r="1.45"/><circle cx="261.9" cy="182.4" r="1.45"/><circle cx="274.1" cy="176.6" r="1.45"/><circle cx="282.7" cy="176.2" r="1.45"/><circle cx="286.2" cy="176.9" r="1.45"/><circle cx="293.6" cy="175.4" r="1.45"/><circle cx="299.8" cy="176.2" r="1.45"/><circle cx="302.1" cy="175.8" r="1.45"/><circle cx="299.0" cy="179.7" r="1.45"/><circle cx="300.6" cy="180.4" r="1.45"/><circle cx="298.2" cy="183.6" r="1.45"/><circle cx="299.8" cy="185.1" r="1.45"/><circle cx="289.7" cy="182.0" r="1.45"/><circle cx="288.5" cy="183.2" r="1.45"/><circle cx="283.4" cy="185.1" r="1.45"/><circle cx="282.7" cy="186.3" r="1.45"/><circle cx="294.3" cy="186.7" r="1.45"/><circle cx="304.1" cy="189.8" r="1.45"/><circle cx="281.1" cy="189.8" r="1.45"/><circle cx="282.7" cy="190.6" r="1.45"/><circle cx="285.8" cy="192.5" r="1.45"/><circle cx="281.9" cy="190.9" r="1.45"/><circle cx="264.8" cy="182.0" r="1.45"/><circle cx="264.8" cy="183.6" r="1.45"/><circle cx="266.3" cy="193.3" r="1.45"/><circle cx="267.5" cy="194.4" r="1.45"/><circle cx="265.6" cy="196.0" r="1.45"/><circle cx="265.6" cy="199.5" r="1.45"/><circle cx="277.2" cy="195.6" r="1.45"/><circle cx="279.6" cy="196.8" r="1.45"/><circle cx="282.7" cy="197.6" r="1.45"/><circle cx="284.2" cy="198.3" r="1.45"/><circle cx="281.9" cy="199.9" r="1.45"/><circle cx="292.8" cy="196.0" r="1.45"/><circle cx="295.1" cy="196.0" r="1.45"/><circle cx="298.2" cy="196.8" r="1.45"/><circle cx="301.3" cy="196.0" r="1.45"/><circle cx="299.8" cy="199.1" r="1.45"/><circle cx="298.2" cy="199.9" r="1.45"/><circle cx="353.0" cy="175.9" r="1.45"/><circle cx="343.3" cy="178.1" r="1.45"/><circle cx="345.2" cy="178.9" r="1.45"/><circle cx="349.1" cy="184.3" r="1.45"/><circle cx="351.4" cy="184.3" r="1.45"/><circle cx="353.8" cy="186.7" r="1.45"/><circle cx="357.3" cy="189.6" r="1.45"/><circle cx="350.7" cy="189.8" r="1.45"/><circle cx="352.2" cy="189.8" r="1.45"/><circle cx="351.1" cy="192.9" r="1.45"/><circle cx="355.3" cy="194.1" r="1.45"/><circle cx="343.7" cy="192.7" r="1.45"/><circle cx="345.6" cy="195.6" r="1.45"/><circle cx="329.1" cy="188.1" r="1.45"/><circle cx="329.3" cy="190.9" r="1.45"/><circle cx="322.8" cy="192.7" r="1.45"/><circle cx="325.9" cy="195.8" r="1.45"/><circle cx="335.1" cy="192.7" r="1.45"/><circle cx="336.3" cy="199.9" r="1.45"/><circle cx="348.7" cy="199.9" r="1.45"/><circle cx="87.0" cy="204.3" r="1.45"/><circle cx="84.7" cy="206.8" r="1.45"/><circle cx="86.6" cy="206.8" r="1.45"/><circle cx="87.0" cy="209.8" r="1.45"/><circle cx="93.6" cy="204.7" r="1.45"/><circle cx="80.6" cy="214.1" r="1.45"/><circle cx="91.7" cy="219.3" r="1.45"/><circle cx="114.8" cy="202.4" r="1.45"/><circle cx="104.7" cy="204.2" r="1.45"/><circle cx="102.7" cy="206.8" r="1.45"/><circle cx="108.2" cy="207.1" r="1.45"/><circle cx="104.7" cy="209.8" r="1.45"/><circle cx="112.1" cy="209.8" r="1.45"/><circle cx="125.3" cy="206.8" r="1.45"/><circle cx="128.0" cy="209.8" r="1.45"/><circle cx="130.3" cy="209.4" r="1.45"/><circle cx="135.4" cy="206.8" r="1.45"/><circle cx="138.1" cy="206.3" r="1.45"/><circle cx="135.8" cy="209.8" r="1.45"/><circle cx="119.5" cy="213.3" r="1.45"/><circle cx="122.6" cy="215.2" r="1.45"/><circle cx="124.9" cy="216.4" r="1.45"/><circle cx="126.8" cy="218.3" r="1.45"/><circle cx="128.8" cy="216.0" r="1.45"/><circle cx="132.7" cy="214.3" r="1.45"/><circle cx="114.4" cy="216.4" r="1.45"/><circle cx="120.2" cy="219.5" r="1.45"/><circle cx="135.4" cy="222.2" r="1.45"/><circle cx="142.4" cy="219.3" r="1.45"/><circle cx="148.2" cy="218.3" r="1.45"/><circle cx="148.2" cy="219.9" r="1.45"/><circle cx="147.8" cy="213.7" r="1.45"/><circle cx="149.8" cy="211.7" r="1.45"/><circle cx="151.7" cy="209.4" r="1.45"/><circle cx="154.4" cy="211.3" r="1.45"/><circle cx="154.4" cy="216.0" r="1.45"/><circle cx="154.4" cy="221.8" r="1.45"/><circle cx="149.8" cy="227.3" r="1.45"/><circle cx="169.6" cy="202.4" r="1.45"/><circle cx="177.3" cy="202.4" r="1.45"/><circle cx="201.4" cy="202.4" r="1.45"/><circle cx="165.7" cy="207.1" r="1.45"/><circle cx="167.6" cy="204.7" r="1.45"/><circle cx="169.6" cy="204.3" r="1.45"/><circle cx="171.9" cy="203.9" r="1.45"/><circle cx="173.8" cy="204.3" r="1.45"/><circle cx="171.1" cy="207.1" r="1.45"/><circle cx="175.8" cy="206.8" r="1.45"/><circle cx="177.7" cy="206.8" r="1.45"/><circle cx="171.9" cy="210.6" r="1.45"/><circle cx="155.6" cy="209.8" r="1.45"/><circle cx="157.5" cy="210.6" r="1.45"/><circle cx="154.8" cy="211.3" r="1.45"/><circle cx="159.4" cy="212.1" r="1.45"/><circle cx="159.4" cy="214.4" r="1.45"/><circle cx="155.2" cy="216.0" r="1.45"/><circle cx="160.2" cy="219.1" r="1.45"/><circle cx="162.6" cy="219.0" r="1.45"/><circle cx="167.1" cy="217.6" r="1.45"/><circle cx="176.6" cy="212.9" r="1.45"/><circle cx="176.2" cy="216.0" r="1.45"/><circle cx="180.4" cy="215.4" r="1.45"/><circle cx="177.7" cy="219.5" r="1.45"/><circle cx="176.6" cy="223.0" r="1.45"/><circle cx="181.6" cy="223.0" r="1.45"/><circle cx="182.8" cy="223.4" r="1.45"/><circle cx="187.4" cy="209.4" r="1.45"/><circle cx="189.0" cy="213.1" r="1.45"/><circle cx="194.4" cy="213.3" r="1.45"/><circle cx="191.7" cy="206.8" r="1.45"/><circle cx="194.8" cy="206.8" r="1.45"/><circle cx="197.6" cy="206.8" r="1.45"/><circle cx="200.7" cy="206.8" r="1.45"/><circle cx="205.3" cy="206.8" r="1.45"/><circle cx="206.5" cy="209.4" r="1.45"/><circle cx="201.4" cy="209.4" r="1.45"/><circle cx="199.9" cy="212.1" r="1.45"/><circle cx="200.7" cy="213.7" r="1.45"/><circle cx="202.2" cy="214.4" r="1.45"/><circle cx="205.7" cy="214.1" r="1.45"/><circle cx="200.7" cy="216.8" r="1.45"/><circle cx="200.3" cy="218.7" r="1.45"/><circle cx="194.4" cy="219.7" r="1.45"/><circle cx="188.2" cy="222.6" r="1.45"/><circle cx="203.0" cy="221.1" r="1.45"/><circle cx="205.7" cy="221.1" r="1.45"/><circle cx="202.2" cy="223.8" r="1.45"/><circle cx="155.6" cy="221.8" r="1.45"/><circle cx="173.1" cy="227.7" r="1.45"/><circle cx="194.1" cy="226.9" r="1.45"/><circle cx="195.2" cy="227.7" r="1.45"/><circle cx="228.4" cy="202.6" r="1.45"/><circle cx="233.9" cy="209.6" r="1.45"/><circle cx="235.8" cy="210.2" r="1.45"/><circle cx="238.2" cy="211.7" r="1.45"/><circle cx="240.1" cy="212.0" r="1.45"/><circle cx="240.5" cy="208.8" r="1.45"/><circle cx="241.7" cy="213.3" r="1.45"/><circle cx="243.2" cy="213.7" r="1.45"/><circle cx="247.5" cy="209.8" r="1.45"/><circle cx="247.1" cy="214.4" r="1.45"/><circle cx="249.4" cy="213.8" r="1.45"/><circle cx="255.3" cy="213.3" r="1.45"/><circle cx="257.1" cy="212.0" r="1.45"/><circle cx="234.3" cy="216.2" r="1.45"/><circle cx="227.3" cy="218.2" r="1.45"/><circle cx="240.1" cy="218.2" r="1.45"/><circle cx="242.8" cy="219.9" r="1.45"/><circle cx="243.2" cy="221.8" r="1.45"/><circle cx="243.6" cy="223.8" r="1.45"/><circle cx="240.1" cy="222.2" r="1.45"/><circle cx="237.8" cy="226.1" r="1.45"/><circle cx="252.9" cy="223.4" r="1.45"/><circle cx="261.5" cy="223.8" r="1.45"/><circle cx="248.7" cy="226.5" r="1.45"/><circle cx="222.2" cy="228.1" r="1.45"/><circle cx="263.4" cy="210.6" r="1.45"/><circle cx="247.1" cy="203.2" r="1.45"/><circle cx="265.6" cy="203.6" r="1.45"/><circle cx="266.3" cy="204.7" r="1.45"/><circle cx="268.7" cy="206.8" r="1.45"/><circle cx="264.8" cy="210.6" r="1.45"/><circle cx="266.3" cy="212.5" r="1.45"/><circle cx="272.6" cy="212.9" r="1.45"/><circle cx="276.1" cy="214.3" r="1.45"/><circle cx="283.4" cy="202.6" r="1.45"/><circle cx="290.4" cy="206.8" r="1.45"/><circle cx="297.4" cy="203.9" r="1.45"/><circle cx="299.4" cy="206.7" r="1.45"/><circle cx="299.8" cy="209.8" r="1.45"/><circle cx="302.9" cy="209.8" r="1.45"/><circle cx="301.3" cy="212.1" r="1.45"/><circle cx="300.6" cy="214.4" r="1.45"/><circle cx="301.3" cy="216.4" r="1.45"/><circle cx="299.8" cy="217.6" r="1.45"/><circle cx="298.2" cy="218.3" r="1.45"/><circle cx="297.8" cy="220.7" r="1.45"/><circle cx="299.8" cy="222.2" r="1.45"/><circle cx="298.6" cy="224.6" r="1.45"/><circle cx="297.4" cy="226.9" r="1.45"/><circle cx="290.4" cy="213.7" r="1.45"/><circle cx="293.2" cy="216.8" r="1.45"/><circle cx="293.9" cy="218.7" r="1.45"/><circle cx="293.6" cy="223.0" r="1.45"/><circle cx="290.8" cy="227.7" r="1.45"/><circle cx="282.7" cy="219.1" r="1.45"/><circle cx="285.8" cy="218.3" r="1.45"/><circle cx="282.7" cy="221.4" r="1.45"/><circle cx="282.7" cy="223.8" r="1.45"/><circle cx="283.1" cy="226.9" r="1.45"/><circle cx="285.4" cy="225.7" r="1.45"/><circle cx="265.2" cy="228.4" r="1.45"/><circle cx="334.3" cy="204.3" r="1.45"/><circle cx="339.0" cy="204.2" r="1.45"/><circle cx="338.2" cy="206.8" r="1.45"/><circle cx="342.5" cy="206.8" r="1.45"/><circle cx="344.4" cy="209.8" r="1.45"/><circle cx="342.1" cy="210.6" r="1.45"/><circle cx="343.7" cy="212.1" r="1.45"/><circle cx="340.9" cy="214.4" r="1.45"/><circle cx="347.6" cy="214.6" r="1.45"/><circle cx="332.8" cy="209.8" r="1.45"/><circle cx="328.1" cy="212.1" r="1.45"/><circle cx="325.4" cy="209.8" r="1.45"/><circle cx="323.1" cy="207.1" r="1.45"/><circle cx="321.5" cy="212.9" r="1.45"/><circle cx="322.7" cy="217.9" r="1.45"/><circle cx="326.6" cy="221.8" r="1.45"/><circle cx="329.7" cy="218.3" r="1.45"/><circle cx="334.7" cy="215.2" r="1.45"/><circle cx="354.6" cy="213.5" r="1.45"/><circle cx="346.2" cy="222.8" r="1.45"/><circle cx="320.7" cy="226.5" r="1.45"/><circle cx="327.3" cy="228.1" r="1.45"/><circle cx="333.2" cy="225.3" r="1.45"/><circle cx="333.2" cy="226.9" r="1.45"/><circle cx="93.6" cy="233.6" r="1.45"/><circle cx="103.6" cy="232.1" r="1.45"/><circle cx="117.8" cy="236.2" r="1.45"/><circle cx="93.6" cy="238.9" r="1.45"/><circle cx="122.9" cy="245.7" r="1.45"/><circle cx="122.1" cy="246.9" r="1.45"/><circle cx="121.2" cy="251.1" r="1.45"/><circle cx="139.4" cy="243.2" r="1.45"/><circle cx="106.7" cy="259.2" r="1.45"/><circle cx="92.8" cy="271.1" r="1.45"/><circle cx="160.9" cy="232.1" r="1.45"/><circle cx="157.8" cy="234.4" r="1.45"/><circle cx="186.7" cy="232.4" r="1.45"/><circle cx="200.2" cy="232.1" r="1.45"/><circle cx="202.1" cy="231.8" r="1.45"/><circle cx="207.2" cy="230.5" r="1.45"/><circle cx="208.7" cy="231.8" r="1.45"/><circle cx="231.1" cy="229.8" r="1.45"/><circle cx="237.3" cy="231.3" r="1.45"/><circle cx="239.6" cy="230.5" r="1.45"/><circle cx="243.1" cy="232.1" r="1.45"/><circle cx="246.5" cy="230.2" r="1.45"/><circle cx="222.6" cy="234.4" r="1.45"/><circle cx="218.8" cy="236.7" r="1.45"/><circle cx="226.2" cy="240.1" r="1.45"/><circle cx="198.7" cy="238.2" r="1.45"/><circle cx="202.1" cy="238.2" r="1.45"/><circle cx="197.2" cy="241.3" r="1.45"/><circle cx="167.6" cy="242.6" r="1.45"/><circle cx="176.8" cy="244.4" r="1.45"/><circle cx="239.6" cy="237.5" r="1.45"/><circle cx="241.9" cy="239.0" r="1.45"/><circle cx="244.2" cy="240.1" r="1.45"/><circle cx="241.6" cy="242.1" r="1.45"/><circle cx="246.5" cy="244.1" r="1.45"/><circle cx="187.6" cy="250.9" r="1.45"/><circle cx="201.0" cy="252.4" r="1.45"/><circle cx="219.5" cy="250.9" r="1.45"/><circle cx="221.5" cy="249.8" r="1.45"/><circle cx="240.3" cy="249.0" r="1.45"/><circle cx="241.6" cy="248.3" r="1.45"/><circle cx="201.5" cy="257.5" r="1.45"/><circle cx="199.5" cy="260.9" r="1.45"/><circle cx="204.1" cy="262.1" r="1.45"/><circle cx="229.2" cy="260.6" r="1.45"/><circle cx="241.6" cy="258.0" r="1.45"/><circle cx="248.8" cy="263.2" r="1.45"/><circle cx="209.2" cy="268.5" r="1.45"/><circle cx="239.6" cy="266.9" r="1.45"/><circle cx="238.0" cy="270.6" r="1.45"/><circle cx="240.0" cy="271.9" r="1.45"/><circle cx="247.3" cy="269.9" r="1.45"/><circle cx="244.2" cy="274.8" r="1.45"/><circle cx="250.4" cy="272.6" r="1.45"/><circle cx="199.5" cy="277.6" r="1.45"/><circle cx="222.2" cy="278.9" r="1.45"/><circle cx="266.1" cy="230.2" r="1.45"/><circle cx="282.7" cy="229.8" r="1.45"/><circle cx="290.8" cy="229.8" r="1.45"/><circle cx="283.0" cy="234.9" r="1.45"/><circle cx="285.8" cy="234.9" r="1.45"/><circle cx="290.0" cy="233.6" r="1.45"/><circle cx="293.1" cy="232.1" r="1.45"/><circle cx="298.8" cy="232.4" r="1.45"/><circle cx="294.6" cy="234.4" r="1.45"/><circle cx="287.7" cy="237.5" r="1.45"/><circle cx="291.5" cy="236.7" r="1.45"/><circle cx="297.2" cy="238.6" r="1.45"/><circle cx="282.7" cy="241.0" r="1.45"/><circle cx="289.2" cy="241.6" r="1.45"/><circle cx="301.5" cy="242.6" r="1.45"/><circle cx="323.1" cy="229.8" r="1.45"/><circle cx="330.1" cy="230.8" r="1.45"/><circle cx="330.1" cy="232.8" r="1.45"/><circle cx="339.3" cy="229.8" r="1.45"/><circle cx="320.8" cy="236.7" r="1.45"/><circle cx="325.4" cy="235.9" r="1.45"/><circle cx="329.3" cy="239.8" r="1.45"/><circle cx="342.4" cy="235.9" r="1.45"/><circle cx="352.1" cy="240.6" r="1.45"/><circle cx="320.4" cy="243.7" r="1.45"/><circle cx="327.0" cy="245.7" r="1.45"/><circle cx="330.1" cy="246.7" r="1.45"/><circle cx="327.8" cy="249.0" r="1.45"/><circle cx="330.8" cy="249.0" r="1.45"/><circle cx="338.6" cy="246.3" r="1.45"/><circle cx="282.7" cy="248.7" r="1.45"/><circle cx="286.9" cy="250.6" r="1.45"/><circle cx="293.1" cy="251.1" r="1.45"/><circle cx="300.8" cy="250.6" r="1.45"/><circle cx="287.7" cy="253.7" r="1.45"/><circle cx="286.1" cy="257.1" r="1.45"/><circle cx="289.2" cy="256.0" r="1.45"/><circle cx="293.8" cy="256.4" r="1.45"/><circle cx="288.4" cy="259.8" r="1.45"/><circle cx="290.8" cy="261.1" r="1.45"/><circle cx="308.9" cy="256.4" r="1.45"/><circle cx="320.1" cy="256.4" r="1.45"/><circle cx="324.7" cy="251.4" r="1.45"/><circle cx="326.2" cy="257.5" r="1.45"/><circle cx="329.3" cy="257.5" r="1.45"/><circle cx="333.1" cy="254.4" r="1.45"/><circle cx="337.0" cy="254.9" r="1.45"/><circle cx="357.8" cy="256.4" r="1.45"/><circle cx="330.8" cy="252.1" r="1.45"/><circle cx="334.2" cy="261.1" r="1.45"/><circle cx="325.4" cy="265.2" r="1.45"/><circle cx="330.1" cy="263.7" r="1.45"/><circle cx="326.2" cy="268.3" r="1.45"/><circle cx="330.8" cy="268.3" r="1.45"/><circle cx="292.3" cy="266.0" r="1.45"/><circle cx="287.7" cy="266.0" r="1.45"/><circle cx="286.1" cy="270.6" r="1.45"/><circle cx="290.0" cy="273.7" r="1.45"/><circle cx="294.6" cy="273.7" r="1.45"/><circle cx="301.5" cy="276.0" r="1.45"/><circle cx="296.6" cy="275.2" r="1.45"/><circle cx="288.4" cy="276.8" r="1.45"/><circle cx="286.1" cy="280.6" r="1.45"/><circle cx="291.5" cy="278.3" r="1.45"/><circle cx="293.1" cy="279.9" r="1.45"/><circle cx="287.7" cy="282.2" r="1.45"/><circle cx="327.8" cy="273.7" r="1.45"/><circle cx="336.7" cy="273.7" r="1.45"/><circle cx="340.4" cy="273.7" r="1.45"/><circle cx="330.1" cy="280.6" r="1.45"/><circle cx="336.7" cy="280.6" r="1.45"/><circle cx="206.7" cy="288.4" r="1.45"/><circle cx="238.0" cy="286.4" r="1.45"/><circle cx="285.4" cy="284.9" r="1.45"/><circle cx="285.4" cy="288.4" r="1.45"/><circle cx="290.0" cy="283.8" r="1.45"/><circle cx="326.5" cy="284.2" r="1.45"/><circle cx="329.0" cy="284.9" r="1.45"/><circle cx="333.1" cy="286.1" r="1.45"/><circle cx="336.7" cy="289.2" r="1.45"/><circle cx="331.6" cy="292.6" r="1.45"/><circle cx="333.9" cy="296.3" r="1.45"/><circle cx="335.8" cy="296.6" r="1.45"/><circle cx="73.4" cy="140.9" r="1.45"/><circle cx="75.2" cy="140.2" r="1.45"/><circle cx="77.1" cy="141.1" r="1.45"/><circle cx="73.6" cy="143.1" r="1.45"/><circle cx="75.7" cy="142.7" r="1.45"/><circle cx="72.1" cy="146.6" r="1.45"/><circle cx="73.4" cy="147.7" r="1.45"/><circle cx="71.6" cy="152.2" r="1.45"/><circle cx="73.0" cy="153.8" r="1.45"/><circle cx="78.9" cy="147.7" r="1.45"/><circle cx="80.0" cy="149.7" r="1.45"/><circle cx="78.0" cy="151.5" r="1.45"/><circle cx="80.9" cy="152.4" r="1.45"/><circle cx="81.6" cy="155.1" r="1.45"/><circle cx="83.6" cy="149.3" r="1.45"/><circle cx="84.1" cy="152.2" r="1.45"/><circle cx="86.6" cy="151.3" r="1.45"/><circle cx="87.2" cy="154.2" r="1.45"/><circle cx="89.6" cy="152.2" r="1.45"/><circle cx="90.2" cy="155.1" r="1.45"/><circle cx="135.5" cy="84.0" r="1.45"/><circle cx="136.6" cy="87.0" r="1.45"/><circle cx="135.0" cy="90.0" r="1.45"/><circle cx="137.0" cy="93.0" r="1.45"/><circle cx="135.6" cy="96.0" r="1.45"/><circle cx="136.6" cy="99.0" r="1.45"/><circle cx="134.6" cy="102.0" r="1.45"/><circle cx="136.2" cy="105.0" r="1.45"/><circle cx="135.0" cy="108.0" r="1.45"/><circle cx="137.0" cy="110.5" r="1.45"/></g></g><rect x="379.5" y="13.4" width="326.8" height="293.8" fill="none" stroke="#3a3a3a" stroke-width="1"/><line x1="382.8" y1="307.2" x2="382.8" y2="313.2" stroke="#3a3a3a" stroke-width="1"/><text x="382.8" y="327.7" font-size="12.3" text-anchor="middle" fill="#111" stroke="#111" stroke-width="0.15">0</text><line x1="427.1" y1="307.2" x2="427.1" y2="313.2" stroke="#3a3a3a" stroke-width="1"/><path transform="translate(423.68,327.70) scale(12.300)" d="M0.373,0 L0.462,0 L0.462,-0.716 L0.400,-0.716 C0.37,-0.645 0.27,-0.565 0.105,-0.53 L0.105,-0.45 C0.21,-0.475 0.32,-0.525 0.373,-0.565 Z" fill="#111" stroke="#111" stroke-width="0.0122"/><line x1="471.4" y1="307.2" x2="471.4" y2="313.2" stroke="#3a3a3a" stroke-width="1"/><text x="471.4" y="327.7" font-size="12.3" text-anchor="middle" fill="#111" stroke="#111" stroke-width="0.15">2</text><line x1="515.7" y1="307.2" x2="515.7" y2="313.2" stroke="#3a3a3a" stroke-width="1"/><text x="515.7" y="327.7" font-size="12.3" text-anchor="middle" fill="#111" stroke="#111" stroke-width="0.15">3</text><line x1="560.0" y1="307.2" x2="560.0" y2="313.2" stroke="#3a3a3a" stroke-width="1"/><text x="560.0" y="327.7" font-size="12.3" text-anchor="middle" fill="#111" stroke="#111" stroke-width="0.15">4</text><line x1="604.3" y1="307.2" x2="604.3" y2="313.2" stroke="#3a3a3a" stroke-width="1"/><text x="604.3" y="327.7" font-size="12.3" text-anchor="middle" fill="#111" stroke="#111" stroke-width="0.15">5</text><line x1="648.6" y1="307.2" x2="648.6" y2="313.2" stroke="#3a3a3a" stroke-width="1"/><text x="648.6" y="327.7" font-size="12.3" text-anchor="middle" fill="#111" stroke="#111" stroke-width="0.15">6</text><line x1="692.9" y1="307.2" x2="692.9" y2="313.2" stroke="#3a3a3a" stroke-width="1"/><text x="692.9" y="327.7" font-size="12.3" text-anchor="middle" fill="#111" stroke="#111" stroke-width="0.15">7</text><line x1="374.0" y1="285.5" x2="379.5" y2="285.5" stroke="#3a3a3a" stroke-width="1"/><line x1="374.0" y1="227.5" x2="379.5" y2="227.5" stroke="#3a3a3a" stroke-width="1"/><line x1="374.0" y1="169.5" x2="379.5" y2="169.5" stroke="#3a3a3a" stroke-width="1"/><line x1="374.0" y1="111.5" x2="379.5" y2="111.5" stroke="#3a3a3a" stroke-width="1"/><line x1="374.0" y1="53.5" x2="379.5" y2="53.5" stroke="#3a3a3a" stroke-width="1"/><text x="543.6" y="349.8" font-size="12.45" font-weight="bold" text-anchor="middle" fill="#000">Time (years after the accident)</text><text transform="translate(8.9,159.8) rotate(-90)" font-size="12.45" font-weight="bold" text-anchor="middle" fill="#000">LnCsTot</text><path d="M48.60,139.51 L49.60,142.10 L50.60,144.83 L51.60,147.62 L52.60,150.44 L53.60,153.21 L54.60,155.90 L55.60,158.45 L56.60,160.83 L57.60,163.00 L58.60,164.95 L59.60,166.63 L60.60,168.05 L61.60,169.19 L62.60,170.04 L63.60,170.59 L64.60,170.85 L65.60,170.81 L66.60,170.47 L67.60,169.84 L68.60,168.93 L69.60,167.73 L70.60,166.28 L71.60,164.59 L72.60,162.69 L73.60,160.60 L74.60,158.37 L75.60,156.05 L76.60,153.68 L77.60,151.32 L78.60,149.04 L79.60,146.88 L80.60,144.92 L81.60,143.21 L82.60,141.81 L83.60,140.75 L84.60,140.07 L85.60,139.81 L86.60,139.97 L87.60,140.55 L88.60,141.55 L89.60,142.94 L90.60,144.70 L91.60,146.76 L92.60,149.09 L93.60,151.63 L94.60,154.32 L95.60,157.10 L96.60,159.91 L97.60,162.69 L98.60,165.39 L99.60,167.96 L100.60,170.37 L101.60,172.57 L102.60,174.55 L103.60,176.28 L104.60,177.73 L105.60,178.91 L106.60,179.80 L107.60,180.39 L108.60,180.69 L109.60,180.69 L110.60,180.39 L111.60,179.80 L112.60,178.93 L113.60,177.77 L114.60,176.36 L115.60,174.70 L116.60,172.82 L117.60,170.76 L118.60,168.55 L119.60,166.23 L120.60,163.86 L121.60,161.48 L122.60,159.17 L123.60,156.97 L124.60,154.95 L125.60,153.16 L126.60,151.67 L127.60,150.52 L128.60,149.74 L129.60,149.37 L130.60,149.42 L131.60,149.90 L132.60,150.79 L133.60,152.09 L134.60,153.75 L135.60,155.74 L136.60,158.01 L137.60,160.50 L138.60,163.15 L139.60,165.90 L140.60,168.70 L141.60,171.48 L142.60,174.19 L143.60,176.79 L144.60,179.22 L145.60,181.46 L146.60,183.47 L147.60,185.24 L148.60,186.73 L149.60,187.95 L150.60,188.88 L151.60,189.51 L152.60,189.85 L153.60,189.89 L154.60,189.63 L155.60,189.08 L156.60,188.24 L157.60,187.13 L158.60,185.75 L159.60,184.13 L160.60,182.28 L161.60,180.24 L162.60,178.04 L163.60,175.73 L164.60,173.36 L165.60,170.96 L166.60,168.62 L167.60,166.38 L168.60,164.30 L169.60,162.45 L170.60,160.87 L171.60,159.63 L172.60,158.75 L173.60,158.27 L174.60,158.21 L175.60,158.58 L176.60,159.37 L177.60,160.57 L178.60,162.14 L179.60,164.05 L180.60,166.25 L181.60,168.68 L182.60,171.30 L183.60,174.02 L184.60,176.81 L185.60,179.59 L186.60,182.31 L187.60,184.93 L188.60,187.39 L189.60,189.66 L190.60,191.71 L191.60,193.51 L192.60,195.05 L193.60,196.31 L194.60,197.28 L195.60,197.95 L196.60,198.33 L197.60,198.41 L198.60,198.19 L199.60,197.68 L200.60,196.88 L201.60,195.80 L202.60,194.46 L203.60,192.87 L204.60,191.05 L205.60,189.04 L206.60,186.86 L207.60,184.55 L208.60,182.17 L209.60,179.77 L210.60,177.40 L211.60,175.12 L212.60,172.99 L213.60,171.07 L214.60,169.42 L215.60,168.08 L216.60,167.10 L217.60,166.52 L218.60,166.35 L219.60,166.61 L220.60,167.29 L221.60,168.39 L222.60,169.87 L223.60,171.69 L224.60,173.82 L225.60,176.20 L226.60,178.77 L227.60,181.47 L228.60,184.24 L229.60,187.02 L230.60,189.75 L231.60,192.38 L232.60,194.87 L233.60,197.17 L234.60,199.26 L235.60,201.10 L236.60,202.68 L237.60,203.98 L238.60,204.99 L239.60,205.71 L240.60,206.12 L241.60,206.24 L242.60,206.06 L243.60,205.59 L244.60,204.83 L245.60,203.79 L246.60,202.48 L247.60,200.93 L248.60,199.14 L249.60,197.15 L250.60,194.99 L251.60,192.69 L252.60,190.32 L253.60,187.90 L254.60,185.51 L255.60,183.19 L256.60,181.01 L257.60,179.02 L258.60,177.29 L259.60,175.87 L260.60,174.80 L261.60,174.11 L262.60,173.83 L263.60,173.98 L264.60,174.56 L265.60,175.55 L266.60,176.93 L267.60,178.67 L268.60,180.73 L269.60,183.04 L270.60,185.57 L271.60,188.24 L272.60,190.99 L273.60,193.76 L274.60,196.50 L275.60,199.15 L276.60,201.66 L277.60,204.00 L278.60,206.12 L279.60,208.00 L280.60,209.62 L281.60,210.97 L282.60,212.02 L283.60,212.78 L284.60,213.24 L285.60,213.40 L286.60,213.26 L287.60,212.82 L288.60,212.10 L289.60,211.10 L290.60,209.83 L291.60,208.30 L292.60,206.54 L293.60,204.58 L294.60,202.44 L295.60,200.15 L296.60,197.78 L297.60,195.35 L298.60,192.94 L299.60,190.59 L300.60,188.36 L301.60,186.31 L302.60,184.51 L303.60,183.00 L304.60,181.83 L305.60,181.04 L306.60,180.65 L307.60,180.69 L308.60,181.16 L309.60,182.05 L310.60,183.33 L311.60,184.98 L312.60,186.96 L313.60,189.22 L314.60,191.69 L315.60,194.33 L316.60,197.06 L317.60,199.83 L318.60,202.57 L319.60,205.24 L320.60,207.77 L321.60,210.14 L322.60,212.30 L323.60,214.22 L324.60,215.89 L325.60,217.27 L326.60,218.37 L327.60,219.17 L328.60,219.67 L329.60,219.87 L330.60,219.77 L331.60,219.37 L332.60,218.69 L333.60,217.72 L334.60,216.49 L335.60,214.99 L336.60,213.27 L337.60,211.32 L338.60,209.20 L339.60,206.93 L340.60,204.56 L341.60,202.13 L342.60,199.69 L343.60,197.31 L344.60,195.04 L345.60,192.94 L346.60,191.06 L347.60,189.47 L348.60,188.20 L349.60,187.31 L350.60,186.82 L351.60,186.75 L352.60,187.11 L353.60,187.89 L354.60,189.07 L355.60,190.64 L356.60,192.54 L357.60,194.72 L358.60,197.15 L359.60,199.74 L360.60,202.45 L361.60,205.21 L362.60,207.96 L363.60,210.64 L364.60,213.20 L365.60,215.60 L366.60,217.79 L367.60,219.76" fill="none" stroke="#f00" stroke-width="1.8" clip-path="url(#cl)"/><path d="M48.60,136.58 L49.60,137.56 L50.60,138.71 L51.60,140.03 L52.60,141.47 L53.60,143.02 L54.60,144.65 L55.60,146.32 L56.60,148.02 L57.60,149.70 L58.60,151.34 L59.60,152.92 L60.60,154.40 L61.60,155.76 L62.60,156.99 L63.60,158.06 L64.60,158.97 L65.60,159.70 L66.60,160.25 L67.60,160.60 L68.60,160.77 L69.60,160.74 L70.60,160.54 L71.60,160.15 L72.60,159.61 L73.60,158.91 L74.60,158.08 L75.60,157.14 L76.60,156.10 L77.60,155.00 L78.60,153.85 L79.60,152.69 L80.60,151.55 L81.60,150.44 L82.60,149.41 L83.60,148.47 L84.60,147.66 L85.60,147.00 L86.60,146.51 L87.60,146.20 L88.60,146.10 L89.60,146.20 L90.60,146.52 L91.60,147.05 L92.60,147.79 L93.60,148.73 L94.60,149.84 L95.60,151.12 L96.60,152.53 L97.60,154.06 L98.60,155.67 L99.60,157.33 L100.60,159.01 L101.60,160.69 L102.60,162.34 L103.60,163.92 L104.60,165.41 L105.60,166.78 L106.60,168.03 L107.60,169.12 L108.60,170.05 L109.60,170.80 L110.60,171.36 L111.60,171.74 L112.60,171.92 L113.60,171.92 L114.60,171.73 L115.60,171.36 L116.60,170.83 L117.60,170.14 L118.60,169.32 L119.60,168.38 L120.60,167.34 L121.60,166.24 L122.60,165.08 L123.60,163.91 L124.60,162.74 L125.60,161.62 L126.60,160.55 L127.60,159.59 L128.60,158.74 L129.60,158.04 L130.60,157.50 L131.60,157.15 L132.60,156.99 L133.60,157.05 L134.60,157.32 L135.60,157.80 L136.60,158.49 L137.60,159.38 L138.60,160.46 L139.60,161.70 L140.60,163.08 L141.60,164.58 L142.60,166.17 L143.60,167.81 L144.60,169.49 L145.60,171.17 L146.60,172.81 L147.60,174.40 L148.60,175.90 L149.60,177.29 L150.60,178.55 L151.60,179.66 L152.60,180.61 L153.60,181.38 L154.60,181.96 L155.60,182.36 L156.60,182.56 L157.60,182.58 L158.60,182.40 L159.60,182.05 L160.60,181.53 L161.60,180.85 L162.60,180.04 L163.60,179.10 L164.60,178.07 L165.60,176.96 L166.60,175.80 L167.60,174.61 L168.60,173.43 L169.60,172.28 L170.60,171.19 L171.60,170.19 L172.60,169.30 L173.60,168.56 L174.60,167.98 L175.60,167.58 L176.60,167.38 L177.60,167.38 L178.60,167.60 L179.60,168.04 L180.60,168.68 L181.60,169.52 L182.60,170.56 L183.60,171.76 L184.60,173.11 L185.60,174.58 L186.60,176.15 L187.60,177.78 L188.60,179.45 L189.60,181.12 L190.60,182.77 L191.60,184.36 L192.60,185.87 L193.60,187.28 L194.60,188.55 L195.60,189.68 L196.60,190.65 L197.60,191.44 L198.60,192.05 L199.60,192.46 L200.60,192.69 L201.60,192.72 L202.60,192.56 L203.60,192.23 L204.60,191.72 L205.60,191.05 L206.60,190.25 L207.60,189.32 L208.60,188.28 L209.60,187.17 L210.60,186.00 L211.60,184.80 L212.60,183.60 L213.60,182.43 L214.60,181.31 L215.60,180.28 L216.60,179.36 L217.60,178.57 L218.60,177.95 L219.60,177.50 L220.60,177.25 L221.60,177.21 L222.60,177.37 L223.60,177.76 L224.60,178.35 L225.60,179.15 L226.60,180.15 L227.60,181.31 L228.60,182.63 L229.60,184.07 L230.60,185.62 L231.60,187.24 L232.60,188.89 L233.60,190.56 L234.60,192.21 L235.60,193.81 L236.60,195.33 L237.60,196.74 L238.60,198.04 L239.60,199.19 L240.60,200.17 L241.60,200.98 L242.60,201.61 L243.60,202.05 L244.60,202.29 L245.60,202.34 L246.60,202.21 L247.60,201.89 L248.60,201.39 L249.60,200.74 L250.60,199.94 L251.60,199.01 L252.60,197.98 L253.60,196.86 L254.60,195.69 L255.60,194.48 L256.60,193.26 L257.60,192.06 L258.60,190.92 L259.60,189.86 L260.60,188.90 L261.60,188.08 L262.60,187.41 L263.60,186.92 L264.60,186.61 L265.60,186.52 L266.60,186.64 L267.60,186.97 L268.60,187.52 L269.60,188.27 L270.60,189.22 L271.60,190.35 L272.60,191.63 L273.60,193.05 L274.60,194.57 L275.60,196.17 L276.60,197.82 L277.60,199.48 L278.60,201.13 L279.60,202.73 L280.60,204.26 L281.60,205.69 L282.60,207.00 L283.60,208.17 L284.60,209.18 L285.60,210.01 L286.60,210.66 L287.60,211.12 L288.60,211.38 L289.60,211.45 L290.60,211.34 L291.60,211.03 L292.60,210.55 L293.60,209.91 L294.60,209.12 L295.60,208.20 L296.60,207.16 L297.60,206.04 L298.60,204.86 L299.60,203.64 L300.60,202.40 L301.60,201.19 L302.60,200.02 L303.60,198.93 L304.60,197.93 L305.60,197.07 L306.60,196.36 L307.60,195.82 L308.60,195.47 L309.60,195.32 L310.60,195.39 L311.60,195.67 L312.60,196.17 L313.60,196.87 L314.60,197.78 L315.60,198.87 L316.60,200.12 L317.60,201.50 L318.60,203.00 L319.60,204.59 L320.60,206.22 L321.60,207.88 L322.60,209.53 L323.60,211.14 L324.60,212.68 L325.60,214.12 L326.60,215.45 L327.60,216.63 L328.60,217.66 L329.60,218.52 L330.60,219.19 L331.60,219.67 L332.60,219.96 L333.60,220.05 L334.60,219.95 L335.60,219.66 L336.60,219.20 L337.60,218.56 L338.60,217.78 L339.60,216.87 L340.60,215.84 L341.60,214.71 L342.60,213.52 L343.60,212.29 L344.60,211.04 L345.60,209.80 L346.60,208.61 L347.60,207.48 L348.60,206.45 L349.60,205.55 L350.60,204.79 L351.60,204.21 L352.60,203.81 L353.60,203.61 L354.60,203.63 L355.60,203.86 L356.60,204.31 L357.60,204.97 L358.60,205.83 L359.60,206.87 L360.60,208.09 L361.60,209.45 L362.60,210.92 L363.60,212.49 L364.60,214.11 L365.60,215.76 L366.60,217.41 L367.60,219.02" fill="none" stroke="#00f" stroke-width="1.8" clip-path="url(#cl)"/><path d="M382.80,103.29 L383.80,103.27 L384.80,103.63 L385.80,104.41 L386.80,105.60 L387.80,107.20 L388.80,109.20 L389.80,111.56 L390.80,114.23 L391.80,117.16 L392.80,120.27 L393.80,123.49 L394.80,126.74 L395.80,129.94 L396.80,132.99 L397.80,135.84 L398.80,138.40 L399.80,140.63 L400.80,142.48 L401.80,143.91 L402.80,144.92 L403.80,145.49 L404.80,145.65 L405.80,145.41 L406.80,144.81 L407.80,143.89 L408.80,142.68 L409.80,141.23 L410.80,139.58 L411.80,137.78 L412.80,135.87 L413.80,133.88 L414.80,131.83 L415.80,129.77 L416.80,127.71 L417.80,125.68 L418.80,123.70 L419.80,121.80 L420.80,120.00 L421.80,118.33 L422.80,116.83 L423.80,115.53 L424.80,114.48 L425.80,113.70 L426.80,113.24 L427.80,113.13 L428.80,113.41 L429.80,114.08 L430.80,115.17 L431.80,116.66 L432.80,118.56 L433.80,120.82 L434.80,123.40 L435.80,126.26 L436.80,129.32 L437.80,132.51 L438.80,135.74 L439.80,138.95 L440.80,142.04 L441.80,144.94 L442.80,147.57 L443.80,149.88 L444.80,151.82 L445.80,153.36 L446.80,154.47 L447.80,155.16 L448.80,155.42 L449.80,155.28 L450.80,154.76 L451.80,153.92 L452.80,152.77 L453.80,151.38 L454.80,149.78 L455.80,148.02 L456.80,146.13 L457.80,144.16 L458.80,142.14 L459.80,140.08 L460.80,138.03 L461.80,135.99 L462.80,134.00 L463.80,132.09 L464.80,130.26 L465.80,128.57 L466.80,127.02 L467.80,125.67 L468.80,124.55 L469.80,123.69 L470.80,123.14 L471.80,122.93 L472.80,123.08 L473.80,123.63 L474.80,124.59 L475.80,125.96 L476.80,127.72 L477.80,129.86 L478.80,132.34 L479.80,135.09 L480.80,138.07 L481.80,141.21 L482.80,144.41 L483.80,147.60 L484.80,150.70 L485.80,153.62 L486.80,156.31 L487.80,158.68 L488.80,160.70 L489.80,162.32 L490.80,163.53 L491.80,164.30 L492.80,164.65 L493.80,164.60 L494.80,164.16 L495.80,163.38 L496.80,162.30 L497.80,160.95 L498.80,159.39 L499.80,157.66 L500.80,155.79 L501.80,153.83 L502.80,151.81 L503.80,149.76 L504.80,147.70 L505.80,145.65 L506.80,143.65 L507.80,141.71 L508.80,139.86 L509.80,138.12 L510.80,136.54 L511.80,135.13 L512.80,133.93 L513.80,132.99 L514.80,132.35 L515.80,132.03 L516.80,132.07 L517.80,132.49 L518.80,133.31 L519.80,134.55 L520.80,136.18 L521.80,138.19 L522.80,140.54 L523.80,143.20 L524.80,146.09 L525.80,149.15 L526.80,152.31 L527.80,155.47 L528.80,158.57 L529.80,161.52 L530.80,164.24 L531.80,166.67 L532.80,168.76 L533.80,170.46 L534.80,171.75 L535.80,172.62 L536.80,173.06 L537.80,173.08 L538.80,172.72 L539.80,172.01 L540.80,170.98 L541.80,169.68 L542.80,168.16 L543.80,166.45 L544.80,164.61 L545.80,162.66 L546.80,160.64 L547.80,158.58 L548.80,156.52 L549.80,154.46 L550.80,152.44 L551.80,150.48 L552.80,148.60 L553.80,146.83 L554.80,145.20 L555.80,143.74 L556.80,142.47 L557.80,141.46 L558.80,140.72 L559.80,140.29 L560.80,140.21 L561.80,140.51 L562.80,141.21 L563.80,142.30 L564.80,143.80 L565.80,145.68 L566.80,147.91 L567.80,150.46 L568.80,153.25 L569.80,156.24 L570.80,159.34 L571.80,162.48 L572.80,165.57 L573.80,168.53 L574.80,171.28 L575.80,173.76 L576.80,175.92 L577.80,177.70 L578.80,179.07 L579.80,180.02 L580.80,180.55 L581.80,180.66 L582.80,180.38 L583.80,179.73 L584.80,178.76 L585.80,177.52 L586.80,176.03 L587.80,174.35 L588.80,172.52 L589.80,170.59 L590.80,168.57 L591.80,166.52 L592.80,164.44 L593.80,162.38 L594.80,160.34 L595.80,158.36 L596.80,156.46 L597.80,154.65 L598.80,152.98 L599.80,151.46 L600.80,150.13 L601.80,149.04 L602.80,148.21 L603.80,147.68 L604.80,147.50 L605.80,147.67 L606.80,148.24 L607.80,149.20 L608.80,150.56 L609.80,152.31 L610.80,154.42 L611.80,156.85 L612.80,159.55 L613.80,162.46 L614.80,165.50 L615.80,168.60 L616.80,171.67 L617.80,174.63 L618.80,177.42 L619.80,179.94 L620.80,182.16 L621.80,184.01 L622.80,185.47 L623.80,186.51 L624.80,187.12 L625.80,187.31 L626.80,187.11 L627.80,186.54 L628.80,185.63 L629.80,184.43 L630.80,182.98 L631.80,181.34 L632.80,179.53 L633.80,177.61 L634.80,175.60 L635.80,173.54 L636.80,171.46 L637.80,169.39 L638.80,167.34 L639.80,165.34 L640.80,163.41 L641.80,161.57 L642.80,159.85 L643.80,158.29 L644.80,156.90 L645.80,155.74 L646.80,154.82 L647.80,154.20 L648.80,153.90 L649.80,153.96 L650.80,154.40 L651.80,155.23 L652.80,156.45 L653.80,158.07 L654.80,160.05 L655.80,162.37 L656.80,164.97 L657.80,167.79 L658.80,170.77 L659.80,173.82 L660.80,176.87 L661.80,179.84 L662.80,182.64 L663.80,185.21 L664.80,187.48 L665.80,189.41 L666.80,190.94 L667.80,192.06 L668.80,192.76 L669.80,193.04 L670.80,192.92 L671.80,192.42 L672.80,191.57 L673.80,190.43 L674.80,189.02 L675.80,187.41 L676.80,185.62 L677.80,183.71 L678.80,181.71 L679.80,179.66 L680.80,177.57 L681.80,175.49 L682.80,173.43 L683.80,171.41 L684.80,169.45 L685.80,167.58 L686.80,165.83 L687.80,164.22 L688.80,162.78 L689.80,161.54 L690.80,160.55 L691.80,159.83 L692.80,159.43 L693.80,159.37 L694.80,159.68 L695.80,160.38 L696.80,161.48 L697.80,162.96 L698.80,164.82 L699.80,167.02 L700.80,169.51 L701.80,172.24" fill="none" stroke="#00f" stroke-width="1.2" stroke-dasharray="4.5,5.2" clip-path="url(#cr)"/><path d="M382.80,158.93 L383.80,160.19 L384.80,161.54 L385.80,162.96 L386.80,164.42 L387.80,165.89 L388.80,167.35 L389.80,168.76 L390.80,170.11 L391.80,171.37 L392.80,172.52 L393.80,173.54 L394.80,174.42 L395.80,175.15 L396.80,175.73 L397.80,176.15 L398.80,176.42 L399.80,176.55 L400.80,176.54 L401.80,176.41 L402.80,176.17 L403.80,175.83 L404.80,175.41 L405.80,174.92 L406.80,174.38 L407.80,173.81 L408.80,173.20 L409.80,172.59 L410.80,171.98 L411.80,171.39 L412.80,170.84 L413.80,170.33 L414.80,169.88 L415.80,169.50 L416.80,169.21 L417.80,169.03 L418.80,168.97 L419.80,169.03 L420.80,169.23 L421.80,169.58 L422.80,170.08 L423.80,170.72 L424.80,171.52 L425.80,172.46 L426.80,173.52 L427.80,174.70 L428.80,175.98 L429.80,177.32 L430.80,178.71 L431.80,180.13 L432.80,181.54 L433.80,182.91 L434.80,184.23 L435.80,185.46 L436.80,186.59 L437.80,187.59 L438.80,188.47 L439.80,189.19 L440.80,189.77 L441.80,190.20 L442.80,190.47 L443.80,190.61 L444.80,190.61 L445.80,190.48 L446.80,190.25 L447.80,189.91 L448.80,189.50 L449.80,189.01 L450.80,188.48 L451.80,187.90 L452.80,187.30 L453.80,186.68 L454.80,186.07 L455.80,185.47 L456.80,184.89 L457.80,184.37 L458.80,183.89 L459.80,183.49 L460.80,183.17 L461.80,182.95 L462.80,182.84 L463.80,182.85 L464.80,183.00 L465.80,183.29 L466.80,183.72 L467.80,184.30 L468.80,185.03 L469.80,185.90 L470.80,186.90 L471.80,188.01 L472.80,189.23 L473.80,190.52 L474.80,191.86 L475.80,193.23 L476.80,194.60 L477.80,195.94 L478.80,197.24 L479.80,198.45 L480.80,199.57 L481.80,200.58 L482.80,201.45 L483.80,202.19 L484.80,202.78 L485.80,203.22 L486.80,203.51 L487.80,203.66 L488.80,203.67 L489.80,203.56 L490.80,203.34 L491.80,203.02 L492.80,202.62 L493.80,202.15 L494.80,201.62 L495.80,201.05 L496.80,200.45 L497.80,199.84 L498.80,199.23 L499.80,198.63 L500.80,198.05 L501.80,197.51 L502.80,197.03 L503.80,196.61 L504.80,196.26 L505.80,196.01 L506.80,195.87 L507.80,195.84 L508.80,195.94 L509.80,196.17 L510.80,196.55 L511.80,197.07 L512.80,197.74 L513.80,198.54 L514.80,199.48 L515.80,200.53 L516.80,201.69 L517.80,202.92 L518.80,204.22 L519.80,205.54 L520.80,206.88 L521.80,208.20 L522.80,209.47 L523.80,210.67 L524.80,211.79 L525.80,212.79 L526.80,213.67 L527.80,214.41 L528.80,215.01 L529.80,215.46 L530.80,215.77 L531.80,215.94 L532.80,215.97 L533.80,215.88 L534.80,215.68 L535.80,215.37 L536.80,214.98 L537.80,214.53 L538.80,214.01 L539.80,213.45 L540.80,212.86 L541.80,212.26 L542.80,211.65 L543.80,211.05 L544.80,210.47 L545.80,209.92 L546.80,209.42 L547.80,208.99 L548.80,208.62 L549.80,208.34 L550.80,208.17 L551.80,208.10 L552.80,208.15 L553.80,208.34 L554.80,208.66 L555.80,209.13 L556.80,209.74 L557.80,210.48 L558.80,211.36 L559.80,212.35 L560.80,213.45 L561.80,214.63 L562.80,215.88 L563.80,217.16 L564.80,218.46 L565.80,219.75 L566.80,221.00 L567.80,222.19 L568.80,223.29 L569.80,224.29 L570.80,225.17 L571.80,225.92 L572.80,226.53 L573.80,227.00 L574.80,227.32 L575.80,227.51 L576.80,227.56 L577.80,227.48 L578.80,227.29 L579.80,227.01 L580.80,226.63 L581.80,226.19 L582.80,225.68 L583.80,225.13 L584.80,224.55 L585.80,223.96 L586.80,223.35 L587.80,222.75 L588.80,222.17 L589.80,221.62 L590.80,221.11 L591.80,220.66 L592.80,220.28 L593.80,219.98 L594.80,219.77 L595.80,219.67 L596.80,219.68 L597.80,219.82 L598.80,220.09 L599.80,220.50 L600.80,221.05 L601.80,221.74 L602.80,222.55 L603.80,223.49 L604.80,224.53 L605.80,225.66 L606.80,226.86 L607.80,228.10 L608.80,229.36 L609.80,230.62 L610.80,231.84 L611.80,233.02 L612.80,234.11 L613.80,235.10 L614.80,235.99 L615.80,236.74 L616.80,237.36 L617.80,237.84 L618.80,238.18 L619.80,238.38 L620.80,238.44 L621.80,238.38 L622.80,238.21 L623.80,237.94 L624.80,237.58 L625.80,237.15 L626.80,236.66 L627.80,236.12 L628.80,235.55 L629.80,234.95 L630.80,234.35 L631.80,233.76 L632.80,233.17 L633.80,232.62 L634.80,232.11 L635.80,231.64 L636.80,231.24 L637.80,230.92 L638.80,230.68 L639.80,230.55 L640.80,230.52 L641.80,230.62 L642.80,230.84 L643.80,231.20 L644.80,231.70 L645.80,232.32 L646.80,233.08 L647.80,233.96 L648.80,234.94 L649.80,236.02 L650.80,237.16 L651.80,238.36 L652.80,239.58 L653.80,240.81 L654.80,242.01 L655.80,243.16 L656.80,244.24 L657.80,245.23 L658.80,246.11 L659.80,246.87 L660.80,247.50 L661.80,247.99 L662.80,248.34 L663.80,248.55 L664.80,248.63 L665.80,248.59 L666.80,248.43 L667.80,248.18 L668.80,247.83 L669.80,247.41 L670.80,246.93 L671.80,246.40 L672.80,245.84 L673.80,245.25 L674.80,244.65 L675.80,244.06 L676.80,243.48 L677.80,242.92 L678.80,242.40 L679.80,241.93 L680.80,241.51 L681.80,241.17 L682.80,240.91 L683.80,240.74 L684.80,240.68 L685.80,240.74 L686.80,240.92 L687.80,241.22 L688.80,241.66 L689.80,242.23 L690.80,242.93 L691.80,243.75 L692.80,244.68 L693.80,245.70 L694.80,246.80 L695.80,247.95 L696.80,249.13 L697.80,250.32 L698.80,251.49 L699.80,252.63 L700.80,253.69 L701.80,254.67" fill="none" stroke="#00f" stroke-width="1.2" stroke-dasharray="4.5,5.2" clip-path="url(#cr)"/><path d="M382.80,113.73 L383.80,115.59 L384.80,117.73 L385.80,120.12 L386.80,122.73 L387.80,125.52 L388.80,128.43 L389.80,131.41 L390.80,134.39 L391.80,137.30 L392.80,140.07 L393.80,142.63 L394.80,144.92 L395.80,146.86 L396.80,148.41 L397.80,149.53 L398.80,150.18 L399.80,150.36 L400.80,150.07 L401.80,149.31 L402.80,148.13 L403.80,146.56 L404.80,144.66 L405.80,142.48 L406.80,140.09 L407.80,137.57 L408.80,134.96 L409.80,132.35 L410.80,129.78 L411.80,127.32 L412.80,125.01 L413.80,122.88 L414.80,120.98 L415.80,119.32 L416.80,117.92 L417.80,116.80 L418.80,115.96 L419.80,115.42 L420.80,115.17 L421.80,115.23 L422.80,115.60 L423.80,116.27 L424.80,117.26 L425.80,118.55 L426.80,120.15 L427.80,122.04 L428.80,124.21 L429.80,126.63 L430.80,129.28 L431.80,132.11 L432.80,135.07 L433.80,138.11 L434.80,141.16 L435.80,144.16 L436.80,147.04 L437.80,149.72 L438.80,152.13 L439.80,154.22 L440.80,155.92 L441.80,157.20 L442.80,158.02 L443.80,158.36 L444.80,158.23 L445.80,157.63 L446.80,156.59 L447.80,155.15 L448.80,153.36 L449.80,151.28 L450.80,148.97 L451.80,146.50 L452.80,143.94 L453.80,141.35 L454.80,138.80 L455.80,136.33 L456.80,134.01 L457.80,131.86 L458.80,129.93 L459.80,128.24 L460.80,126.81 L461.80,125.65 L462.80,124.78 L463.80,124.19 L464.80,123.91 L465.80,123.92 L466.80,124.24 L467.80,124.86 L468.80,125.80 L469.80,127.03 L470.80,128.57 L471.80,130.41 L472.80,132.52 L473.80,134.89 L474.80,137.49 L475.80,140.28 L476.80,143.21 L477.80,146.23 L478.80,149.28 L479.80,152.29 L480.80,155.20 L481.80,157.92 L482.80,160.40 L483.80,162.56 L484.80,164.36 L485.80,165.73 L486.80,166.66 L487.80,167.12 L488.80,167.09 L489.80,166.60 L490.80,165.65 L491.80,164.30 L492.80,162.58 L493.80,160.55 L494.80,158.28 L495.80,155.84 L496.80,153.28 L497.80,150.68 L498.80,148.11 L499.80,145.61 L500.80,143.24 L501.80,141.04 L502.80,139.05 L503.80,137.29 L504.80,135.80 L505.80,134.57 L506.80,133.63 L507.80,132.98 L508.80,132.62 L509.80,132.56 L510.80,132.81 L511.80,133.36 L512.80,134.22 L513.80,135.38 L514.80,136.84 L515.80,138.60 L516.80,140.64 L517.80,142.93 L518.80,145.46 L519.80,148.19 L520.80,151.07 L521.80,154.05 L522.80,157.08 L523.80,160.08 L524.80,163.00 L525.80,165.75 L526.80,168.27 L527.80,170.49 L528.80,172.36 L529.80,173.83 L530.80,174.85 L531.80,175.40 L532.80,175.47 L533.80,175.07 L534.80,174.21 L535.80,172.94 L536.80,171.28 L537.80,169.30 L538.80,167.07 L539.80,164.64 L540.80,162.08 L541.80,159.47 L542.80,156.86 L543.80,154.32 L544.80,151.90 L545.80,149.64 L546.80,147.58 L547.80,145.76 L548.80,144.19 L549.80,142.89 L550.80,141.87 L551.80,141.14 L552.80,140.71 L553.80,140.58 L554.80,140.75 L555.80,141.22 L556.80,142.00 L557.80,143.08 L558.80,144.46 L559.80,146.13 L560.80,148.09 L561.80,150.30 L562.80,152.76 L563.80,155.42 L564.80,158.25 L565.80,161.18 L566.80,164.18 L567.80,167.17 L568.80,170.09 L569.80,172.86 L570.80,175.42 L571.80,177.69 L572.80,179.63 L573.80,181.17 L574.80,182.28 L575.80,182.92 L576.80,183.09 L577.80,182.78 L578.80,182.01 L579.80,180.81 L580.80,179.22 L581.80,177.30 L582.80,175.09 L583.80,172.68 L584.80,170.12 L585.80,167.50 L586.80,164.86 L587.80,162.28 L588.80,159.80 L589.80,157.48 L590.80,155.36 L591.80,153.46 L592.80,151.82 L593.80,150.44 L594.80,149.35 L595.80,148.54 L596.80,148.04 L597.80,147.83 L598.80,147.92 L599.80,148.31 L600.80,149.01 L601.80,150.01 L602.80,151.31 L603.80,152.90 L604.80,154.77 L605.80,156.91 L606.80,159.29 L607.80,161.88 L608.80,164.65 L609.80,167.54 L610.80,170.50 L611.80,173.47 L612.80,176.38 L613.80,179.17 L614.80,181.76 L615.80,184.08 L616.80,186.08 L617.80,187.70 L618.80,188.89 L619.80,189.63 L620.80,189.89 L621.80,189.67 L622.80,188.99 L623.80,187.87 L624.80,186.35 L625.80,184.47 L626.80,182.31 L627.80,179.92 L628.80,177.37 L629.80,174.73 L630.80,172.06 L631.80,169.44 L632.80,166.92 L633.80,164.54 L634.80,162.35 L635.80,160.38 L636.80,158.66 L637.80,157.20 L638.80,156.03 L639.80,155.15 L640.80,154.56 L641.80,154.28 L642.80,154.29 L643.80,154.61 L644.80,155.22 L645.80,156.14 L646.80,157.36 L647.80,158.87 L648.80,160.66 L649.80,162.72 L650.80,165.02 L651.80,167.54 L652.80,170.25 L653.80,173.09 L654.80,176.01 L655.80,178.96 L656.80,181.86 L657.80,184.66 L658.80,187.28 L659.80,189.64 L660.80,191.70 L661.80,193.39 L662.80,194.67 L663.80,195.50 L664.80,195.85 L665.80,195.73 L666.80,195.14 L667.80,194.10 L668.80,192.64 L669.80,190.83 L670.80,188.70 L671.80,186.34 L672.80,183.79 L673.80,181.15 L674.80,178.46 L675.80,175.80 L676.80,173.22 L677.80,170.79 L678.80,168.53 L679.80,166.49 L680.80,164.69 L681.80,163.16 L682.80,161.91 L683.80,160.95 L684.80,160.28 L685.80,159.92 L686.80,159.86 L687.80,160.09 L688.80,160.63 L689.80,161.47 L690.80,162.61 L691.80,164.03 L692.80,165.74 L693.80,167.72 L694.80,169.95 L695.80,172.40 L696.80,175.04 L697.80,177.83 L698.80,180.71 L699.80,183.63 L700.80,186.53 L701.80,189.33" fill="none" stroke="#00f" stroke-width="1.2" clip-path="url(#cr)"/><path d="M382.80,160.25 L383.80,163.18 L384.80,166.16 L385.80,169.14 L386.80,172.07 L387.80,174.88 L388.80,177.55 L389.80,180.03 L390.80,182.29 L391.80,184.32 L392.80,186.09 L393.80,187.60 L394.80,188.85 L395.80,189.81 L396.80,190.51 L397.80,190.92 L398.80,191.04 L399.80,190.89 L400.80,190.45 L401.80,189.73 L402.80,188.73 L403.80,187.47 L404.80,185.95 L405.80,184.19 L406.80,182.23 L407.80,180.11 L408.80,177.86 L409.80,175.54 L410.80,173.20 L411.80,170.92 L412.80,168.75 L413.80,166.76 L414.80,165.01 L415.80,163.57 L416.80,162.48 L417.80,161.79 L418.80,161.52 L419.80,161.69 L420.80,162.31 L421.80,163.36 L422.80,164.81 L423.80,166.63 L424.80,168.77 L425.80,171.18 L426.80,173.79 L427.80,176.54 L428.80,179.38 L429.80,182.23 L430.80,185.03 L431.80,187.75 L432.80,190.33 L433.80,192.74 L434.80,194.94 L435.80,196.92 L436.80,198.66 L437.80,200.15 L438.80,201.37 L439.80,202.33 L440.80,203.01 L441.80,203.43 L442.80,203.57 L443.80,203.43 L444.80,203.02 L445.80,202.33 L446.80,201.37 L447.80,200.14 L448.80,198.66 L449.80,196.95 L450.80,195.02 L451.80,192.92 L452.80,190.68 L453.80,188.35 L454.80,186.00 L455.80,183.67 L456.80,181.44 L457.80,179.37 L458.80,177.53 L459.80,175.96 L460.80,174.74 L461.80,173.89 L462.80,173.46 L463.80,173.46 L464.80,173.90 L465.80,174.77 L466.80,176.05 L467.80,177.71 L468.80,179.70 L469.80,181.97 L470.80,184.46 L471.80,187.10 L472.80,189.85 L473.80,192.62 L474.80,195.38 L475.80,198.05 L476.80,200.60 L477.80,203.00 L478.80,205.20 L479.80,207.18 L480.80,208.93 L481.80,210.43 L482.80,211.68 L483.80,212.67 L484.80,213.39 L485.80,213.85 L486.80,214.04 L487.80,213.96 L488.80,213.61 L489.80,212.99 L490.80,212.10 L491.80,210.95 L492.80,209.54 L493.80,207.90 L494.80,206.04 L495.80,203.99 L496.80,201.80 L497.80,199.51 L498.80,197.17 L499.80,194.84 L500.80,192.58 L501.80,190.46 L502.80,188.55 L503.80,186.90 L504.80,185.56 L505.80,184.59 L506.80,184.02 L507.80,183.87 L508.80,184.16 L509.80,184.87 L510.80,186.00 L511.80,187.51 L512.80,189.37 L513.80,191.51 L514.80,193.89 L515.80,196.45 L516.80,199.11 L517.80,201.83 L518.80,204.53 L519.80,207.18 L520.80,209.71 L521.80,212.10 L522.80,214.30 L523.80,216.29 L524.80,218.06 L525.80,219.59 L526.80,220.87 L527.80,221.90 L528.80,222.67 L529.80,223.18 L530.80,223.43 L531.80,223.41 L532.80,223.13 L533.80,222.59 L534.80,221.77 L535.80,220.70 L536.80,219.38 L537.80,217.81 L538.80,216.03 L539.80,214.05 L540.80,211.91 L541.80,209.66 L542.80,207.35 L543.80,205.03 L544.80,202.76 L545.80,200.61 L546.80,198.64 L547.80,196.91 L548.80,195.47 L549.80,194.39 L550.80,193.69 L551.80,193.41 L552.80,193.55 L553.80,194.11 L554.80,195.09 L555.80,196.46 L556.80,198.18 L557.80,200.21 L558.80,202.48 L559.80,204.94 L560.80,207.52 L561.80,210.18 L562.80,212.84 L563.80,215.45 L564.80,217.96 L565.80,220.34 L566.80,222.54 L567.80,224.55 L568.80,226.34 L569.80,227.90 L570.80,229.21 L571.80,230.28 L572.80,231.09 L573.80,231.65 L574.80,231.96 L575.80,232.00 L576.80,231.79 L577.80,231.31 L578.80,230.58 L579.80,229.59 L580.80,228.34 L581.80,226.86 L582.80,225.15 L583.80,223.25 L584.80,221.17 L585.80,218.97 L586.80,216.69 L587.80,214.39 L588.80,212.11 L589.80,209.93 L590.80,207.92 L591.80,206.12 L592.80,204.60 L593.80,203.41 L594.80,202.59 L595.80,202.17 L596.80,202.17 L597.80,202.59 L598.80,203.42 L599.80,204.65 L600.80,206.24 L601.80,208.14 L602.80,210.30 L603.80,212.66 L604.80,215.17 L605.80,217.75 L606.80,220.36 L607.80,222.94 L608.80,225.43 L609.80,227.80 L610.80,230.00 L611.80,232.02 L612.80,233.82 L613.80,235.41 L614.80,236.75 L615.80,237.85 L616.80,238.71 L617.80,239.32 L618.80,239.67 L619.80,239.78 L620.80,239.63 L621.80,239.23 L622.80,238.57 L623.80,237.65 L624.80,236.49 L625.80,235.09 L626.80,233.46 L627.80,231.62 L628.80,229.62 L629.80,227.47 L630.80,225.23 L631.80,222.94 L632.80,220.67 L633.80,218.48 L634.80,216.42 L635.80,214.56 L636.80,212.96 L637.80,211.67 L638.80,210.73 L639.80,210.18 L640.80,210.05 L641.80,210.33 L642.80,211.02 L643.80,212.10 L644.80,213.55 L645.80,215.33 L646.80,217.37 L647.80,219.64 L648.80,222.06 L649.80,224.57 L650.80,227.13 L651.80,229.67 L652.80,232.13 L653.80,234.49 L654.80,236.69 L655.80,238.71 L656.80,240.53 L657.80,242.13 L658.80,243.51 L659.80,244.64 L660.80,245.54 L661.80,246.19 L662.80,246.59 L663.80,246.76 L664.80,246.67 L665.80,246.33 L666.80,245.75 L667.80,244.91 L668.80,243.83 L669.80,242.50 L670.80,240.95 L671.80,239.19 L672.80,237.25 L673.80,235.16 L674.80,232.96 L675.80,230.70 L676.80,228.44 L677.80,226.24 L678.80,224.15 L679.80,222.23 L680.80,220.56 L681.80,219.18 L682.80,218.13 L683.80,217.46 L684.80,217.19 L685.80,217.33 L686.80,217.88 L687.80,218.82 L688.80,220.14 L689.80,221.78 L690.80,223.71 L691.80,225.87 L692.80,228.20 L693.80,230.65 L694.80,233.14 L695.80,235.64 L696.80,238.07 L697.80,240.41 L698.80,242.61 L699.80,244.63 L700.80,246.46 L701.80,248.08" fill="none" stroke="#00f" stroke-width="1.2" clip-path="url(#cr)"/><path d="M382.80,140.84 L383.80,141.91 L384.80,143.08 L385.80,144.35 L386.80,145.69 L387.80,147.08 L388.80,148.49 L389.80,149.90 L390.80,151.29 L391.80,152.62 L392.80,153.88 L393.80,155.05 L394.80,156.10 L395.80,157.01 L396.80,157.79 L397.80,158.41 L398.80,158.87 L399.80,159.17 L400.80,159.31 L401.80,159.29 L402.80,159.14 L403.80,158.85 L404.80,158.44 L405.80,157.93 L406.80,157.34 L407.80,156.67 L408.80,155.96 L409.80,155.21 L410.80,154.45 L411.80,153.70 L412.80,152.97 L413.80,152.27 L414.80,151.64 L415.80,151.08 L416.80,150.60 L417.80,150.23 L418.80,149.97 L419.80,149.84 L420.80,149.84 L421.80,149.98 L422.80,150.27 L423.80,150.71 L424.80,151.29 L425.80,152.02 L426.80,152.89 L427.80,153.89 L428.80,155.00 L429.80,156.21 L430.80,157.49 L431.80,158.84 L432.80,160.21 L433.80,161.60 L434.80,162.97 L435.80,164.30 L436.80,165.56 L437.80,166.74 L438.80,167.80 L439.80,168.75 L440.80,169.55 L441.80,170.21 L442.80,170.71 L443.80,171.05 L444.80,171.23 L445.80,171.26 L446.80,171.15 L447.80,170.89 L448.80,170.52 L449.80,170.04 L450.80,169.46 L451.80,168.82 L452.80,168.11 L453.80,167.37 L454.80,166.61 L455.80,165.84 L456.80,165.09 L457.80,164.38 L458.80,163.71 L459.80,163.11 L460.80,162.60 L461.80,162.18 L462.80,161.86 L463.80,161.67 L464.80,161.60 L465.80,161.68 L466.80,161.90 L467.80,162.26 L468.80,162.78 L469.80,163.44 L470.80,164.24 L471.80,165.17 L472.80,166.22 L473.80,167.37 L474.80,168.61 L475.80,169.91 L476.80,171.26 L477.80,172.62 L478.80,173.98 L479.80,175.31 L480.80,176.58 L481.80,177.77 L482.80,178.86 L483.80,179.83 L484.80,180.67 L485.80,181.37 L486.80,181.91 L487.80,182.30 L488.80,182.53 L489.80,182.60 L490.80,182.53 L491.80,182.32 L492.80,181.99 L493.80,181.54 L494.80,180.99 L495.80,180.37 L496.80,179.68 L497.80,178.95 L498.80,178.19 L499.80,177.42 L500.80,176.66 L501.80,175.93 L502.80,175.24 L503.80,174.61 L504.80,174.05 L505.80,173.58 L506.80,173.22 L507.80,172.97 L508.80,172.85 L509.80,172.86 L510.80,173.01 L511.80,173.31 L512.80,173.75 L513.80,174.34 L514.80,175.08 L515.80,175.94 L516.80,176.93 L517.80,178.03 L518.80,179.22 L519.80,180.49 L520.80,181.80 L521.80,183.14 L522.80,184.48 L523.80,185.81 L524.80,187.08 L525.80,188.28 L526.80,189.40 L527.80,190.40 L528.80,191.27 L529.80,192.01 L530.80,192.59 L531.80,193.03 L532.80,193.30 L533.80,193.43 L534.80,193.40 L535.80,193.24 L536.80,192.94 L537.80,192.53 L538.80,192.01 L539.80,191.41 L540.80,190.74 L541.80,190.02 L542.80,189.27 L543.80,188.50 L544.80,187.73 L545.80,186.99 L546.80,186.28 L547.80,185.62 L548.80,185.03 L549.80,184.52 L550.80,184.11 L551.80,183.81 L552.80,183.63 L553.80,183.58 L554.80,183.67 L555.80,183.90 L556.80,184.27 L557.80,184.79 L558.80,185.46 L559.80,186.26 L560.80,187.19 L561.80,188.23 L562.80,189.37 L563.80,190.60 L564.80,191.87 L565.80,193.19 L566.80,194.51 L567.80,195.83 L568.80,197.10 L569.80,198.32 L570.80,199.45 L571.80,200.48 L572.80,201.38 L573.80,202.16 L574.80,202.79 L575.80,203.26 L576.80,203.59 L577.80,203.76 L578.80,203.78 L579.80,203.66 L580.80,203.40 L581.80,203.03 L582.80,202.55 L583.80,201.97 L584.80,201.33 L585.80,200.62 L586.80,199.88 L587.80,199.11 L588.80,198.34 L589.80,197.58 L590.80,196.85 L591.80,196.17 L592.80,195.55 L593.80,195.00 L594.80,194.54 L595.80,194.19 L596.80,193.96 L597.80,193.85 L598.80,193.87 L599.80,194.04 L600.80,194.34 L601.80,194.80 L602.80,195.40 L603.80,196.13 L604.80,197.00 L605.80,197.98 L606.80,199.07 L607.80,200.25 L608.80,201.49 L609.80,202.78 L610.80,204.08 L611.80,205.38 L612.80,206.66 L613.80,207.88 L614.80,209.02 L615.80,210.07 L616.80,211.01 L617.80,211.82 L618.80,212.49 L619.80,213.01 L620.80,213.38 L621.80,213.60 L622.80,213.67 L623.80,213.59 L624.80,213.38 L625.80,213.04 L626.80,212.60 L627.80,212.05 L628.80,211.43 L629.80,210.74 L630.80,210.01 L631.80,209.25 L632.80,208.48 L633.80,207.71 L634.80,206.96 L635.80,206.26 L636.80,205.60 L637.80,205.02 L638.80,204.53 L639.80,204.13 L640.80,203.84 L641.80,203.67 L642.80,203.63 L643.80,203.73 L644.80,203.97 L645.80,204.36 L646.80,204.89 L647.80,205.56 L648.80,206.36 L649.80,207.29 L650.80,208.32 L651.80,209.45 L652.80,210.65 L653.80,211.90 L654.80,213.19 L655.80,214.47 L656.80,215.74 L657.80,216.97 L658.80,218.13 L659.80,219.20 L660.80,220.16 L661.80,221.01 L662.80,221.71 L663.80,222.28 L664.80,222.69 L665.80,222.96 L666.80,223.07 L667.80,223.04 L668.80,222.87 L669.80,222.58 L670.80,222.16 L671.80,221.65 L672.80,221.06 L673.80,220.39 L674.80,219.67 L675.80,218.91 L676.80,218.14 L677.80,217.37 L678.80,216.61 L679.80,215.88 L680.80,215.20 L681.80,214.59 L682.80,214.05 L683.80,213.61 L684.80,213.27 L685.80,213.04 L686.80,212.95 L687.80,212.98 L688.80,213.16 L689.80,213.48 L690.80,213.94 L691.80,214.54 L692.80,215.28 L693.80,216.15 L694.80,217.12 L695.80,218.20 L696.80,219.36 L697.80,220.58 L698.80,221.83 L699.80,223.10 L700.80,224.36 L701.80,225.59" fill="none" stroke="#f00" stroke-width="1.7" stroke-dasharray="5.5,8.4" clip-path="url(#cr)"/><path d="M382.80,145.43 L383.80,147.69 L384.80,150.06 L385.80,152.50 L386.80,154.97 L387.80,157.42 L388.80,159.80 L389.80,162.07 L390.80,164.20 L391.80,166.15 L392.80,167.89 L393.80,169.39 L394.80,170.63 L395.80,171.58 L396.80,172.24 L397.80,172.59 L398.80,172.64 L399.80,172.38 L400.80,171.82 L401.80,170.97 L402.80,169.85 L403.80,168.48 L404.80,166.89 L405.80,165.11 L406.80,163.18 L407.80,161.14 L408.80,159.03 L409.80,156.91 L410.80,154.81 L411.80,152.79 L412.80,150.90 L413.80,149.18 L414.80,147.67 L415.80,146.41 L416.80,145.43 L417.80,144.77 L418.80,144.43 L419.80,144.43 L420.80,144.77 L421.80,145.45 L422.80,146.46 L423.80,147.77 L424.80,149.37 L425.80,151.21 L426.80,153.26 L427.80,155.48 L428.80,157.84 L429.80,160.27 L430.80,162.74 L431.80,165.21 L432.80,167.62 L433.80,169.94 L434.80,172.12 L435.80,174.13 L436.80,175.94 L437.80,177.52 L438.80,178.85 L439.80,179.89 L440.80,180.65 L441.80,181.10 L442.80,181.24 L443.80,181.08 L444.80,180.61 L445.80,179.85 L446.80,178.82 L447.80,177.52 L448.80,175.99 L449.80,174.27 L450.80,172.38 L451.80,170.37 L452.80,168.28 L453.80,166.15 L454.80,164.04 L455.80,161.99 L456.80,160.05 L457.80,158.27 L458.80,156.69 L459.80,155.34 L460.80,154.27 L461.80,153.51 L462.80,153.06 L463.80,152.95 L464.80,153.18 L465.80,153.75 L466.80,154.65 L467.80,155.86 L468.80,157.36 L469.80,159.12 L470.80,161.10 L471.80,163.27 L472.80,165.58 L473.80,167.98 L474.80,170.44 L475.80,172.90 L476.80,175.32 L477.80,177.66 L478.80,179.88 L479.80,181.94 L480.80,183.81 L481.80,185.45 L482.80,186.84 L483.80,187.97 L484.80,188.80 L485.80,189.34 L486.80,189.57 L487.80,189.49 L488.80,189.11 L489.80,188.43 L490.80,187.47 L491.80,186.24 L492.80,184.77 L493.80,183.10 L494.80,181.25 L495.80,179.26 L496.80,177.18 L497.80,175.05 L498.80,172.92 L499.80,170.83 L500.80,168.84 L501.80,167.00 L502.80,165.34 L503.80,163.91 L504.80,162.74 L505.80,161.86 L506.80,161.30 L507.80,161.08 L508.80,161.19 L509.80,161.64 L510.80,162.43 L511.80,163.54 L512.80,164.94 L513.80,166.61 L514.80,168.51 L515.80,170.61 L516.80,172.86 L517.80,175.23 L518.80,177.66 L519.80,180.11 L520.80,182.53 L521.80,184.89 L522.80,187.14 L523.80,189.23 L524.80,191.15 L525.80,192.85 L526.80,194.31 L527.80,195.51 L528.80,196.42 L529.80,197.04 L530.80,197.36 L531.80,197.36 L532.80,197.06 L533.80,196.46 L534.80,195.57 L535.80,194.41 L536.80,193.00 L537.80,191.38 L538.80,189.56 L539.80,187.60 L540.80,185.53 L541.80,183.40 L542.80,181.26 L543.80,179.14 L544.80,177.11 L545.80,175.20 L546.80,173.47 L547.80,171.95 L548.80,170.68 L549.80,169.70 L550.80,169.03 L551.80,168.69 L552.80,168.68 L553.80,169.02 L554.80,169.69 L555.80,170.68 L556.80,171.98 L557.80,173.56 L558.80,175.38 L559.80,177.40 L560.80,179.60 L561.80,181.92 L562.80,184.32 L563.80,186.75 L564.80,189.17 L565.80,191.54 L566.80,193.81 L567.80,195.94 L568.80,197.91 L569.80,199.66 L570.80,201.19 L571.80,202.45 L572.80,203.44 L573.80,204.14 L574.80,204.54 L575.80,204.62 L576.80,204.40 L577.80,203.88 L578.80,203.07 L579.80,201.98 L580.80,200.63 L581.80,199.06 L582.80,197.29 L583.80,195.36 L584.80,193.30 L585.80,191.18 L586.80,189.02 L587.80,186.88 L588.80,184.80 L589.80,182.84 L590.80,181.03 L591.80,179.43 L592.80,178.07 L593.80,176.99 L594.80,176.20 L595.80,175.74 L596.80,175.62 L597.80,175.83 L598.80,176.39 L599.80,177.27 L600.80,178.46 L601.80,179.94 L602.80,181.68 L603.80,183.63 L604.80,185.76 L605.80,188.03 L606.80,190.40 L607.80,192.81 L608.80,195.22 L609.80,197.60 L610.80,199.89 L611.80,202.05 L612.80,204.05 L613.80,205.86 L614.80,207.45 L615.80,208.78 L616.80,209.84 L617.80,210.62 L618.80,211.10 L619.80,211.27 L620.80,211.13 L621.80,210.69 L622.80,209.95 L623.80,208.93 L624.80,207.65 L625.80,206.13 L626.80,204.41 L627.80,202.51 L628.80,200.48 L629.80,198.36 L630.80,196.19 L631.80,194.03 L632.80,191.91 L633.80,189.90 L634.80,188.03 L635.80,186.35 L636.80,184.89 L637.80,183.71 L638.80,182.82 L639.80,182.24 L640.80,182.00 L641.80,182.10 L642.80,182.53 L643.80,183.30 L644.80,184.39 L645.80,185.76 L646.80,187.41 L647.80,189.28 L648.80,191.35 L649.80,193.57 L650.80,195.89 L651.80,198.28 L652.80,200.68 L653.80,203.05 L654.80,205.36 L655.80,207.55 L656.80,209.59 L657.80,211.45 L658.80,213.09 L659.80,214.49 L660.80,215.63 L661.80,216.48 L662.80,217.04 L663.80,217.29 L664.80,217.23 L665.80,216.87 L666.80,216.21 L667.80,215.26 L668.80,214.05 L669.80,212.59 L670.80,210.91 L671.80,209.05 L672.80,207.05 L673.80,204.94 L674.80,202.77 L675.80,200.59 L676.80,198.44 L677.80,196.38 L678.80,194.45 L679.80,192.69 L680.80,191.15 L681.80,189.87 L682.80,188.87 L683.80,188.18 L684.80,187.82 L685.80,187.80 L686.80,188.12 L687.80,188.77 L688.80,189.74 L689.80,191.02 L690.80,192.57 L691.80,194.36 L692.80,196.36 L693.80,198.52 L694.80,200.80 L695.80,203.15 L696.80,205.54 L697.80,207.91 L698.80,210.23 L699.80,212.44 L700.80,214.52 L701.80,216.43" fill="none" stroke="#f00" stroke-width="1.8" clip-path="url(#cr)"/><line x1="218" y1="23.5" x2="250.8" y2="23.5" stroke="#f00" stroke-width="1.3"/><line x1="218" y1="36.6" x2="250.8" y2="36.6" stroke="#00f" stroke-width="1.3"/><text x="257.7" y="27.0" font-size="10.9" fill="#111">Fit to all data</text><text x="257.7" y="40.7" font-size="10.9" fill="#111">Fit to training data only</text><rect x="380" y="243.9" width="216" height="62.6" fill="#fff"/><line x1="383.6" y1="253.8" x2="415.8" y2="253.8" stroke="#f00" stroke-width="1.4"/><text x="423" y="258.0" font-size="10.9" fill="#111"><tspan>50</tspan><tspan font-size="7.6" dy="-3.6">th</tspan><tspan dy="3.6"> %, fit to all data</tspan></text><line x1="383.6" y1="267.0" x2="415.8" y2="267.0" stroke="#f00" stroke-width="1.4" stroke-dasharray="4.8,3.5"/><text x="423" y="271.2" font-size="10.9" fill="#111"><tspan>50</tspan><tspan font-size="7.6" dy="-3.6">th</tspan><tspan dy="3.6"> %, fit to training data only</tspan></text><line x1="383.6" y1="280.1" x2="415.8" y2="280.1" stroke="#00f" stroke-width="1.4"/><text x="423" y="284.3" font-size="10.9" fill="#111"><tspan>25</tspan><tspan font-size="7.6" dy="-3.6">th</tspan><tspan dy="3.6">, 75</tspan><tspan font-size="7.6" dy="-3.6">th</tspan><tspan dy="3.6"> %, fit to all data</tspan></text><line x1="383.6" y1="293.2" x2="415.8" y2="293.2" stroke="#00f" stroke-width="1.4" stroke-dasharray="4.8,3.5"/><text x="423" y="297.4" font-size="10.9" fill="#111"><tspan>25</tspan><tspan font-size="7.6" dy="-3.6">th</tspan><tspan dy="3.6">, 75</tspan><tspan font-size="7.6" dy="-3.6">th</tspan><tspan dy="3.6"> %, fit to training data only</tspan></text></svg></body></html>
